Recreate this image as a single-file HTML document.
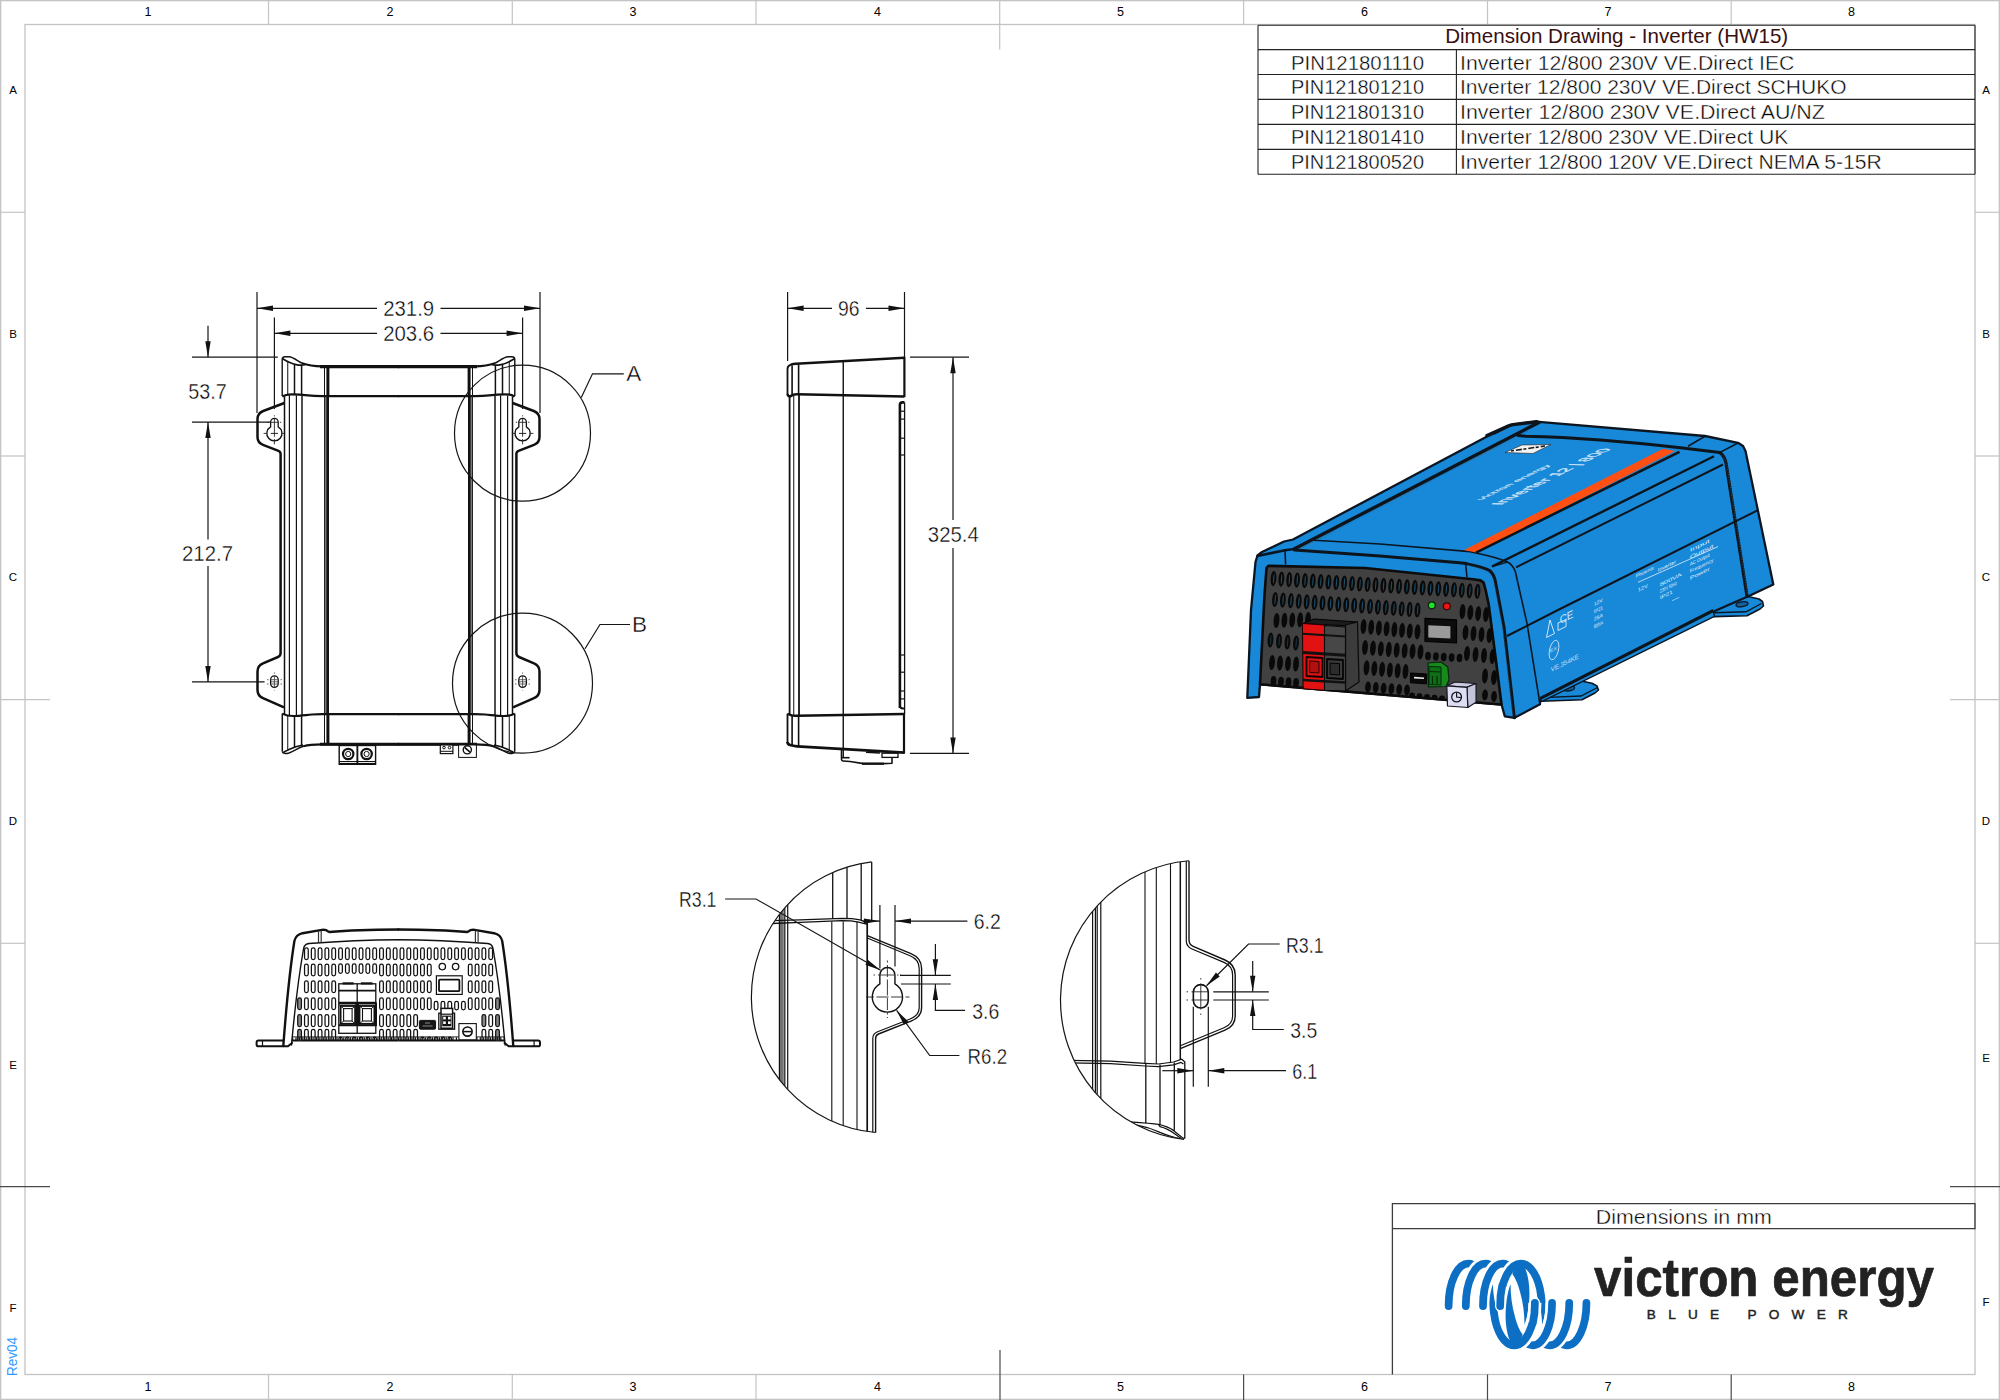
<!DOCTYPE html>
<html><head><meta charset="utf-8"><title>Dimension Drawing - Inverter (HW15)</title>
<style>
html,body{margin:0;padding:0;background:#fff;}
body{width:2000px;height:1400px;overflow:hidden;font-family:"Liberation Sans",sans-serif;}
svg{display:block;font-family:"Liberation Sans",sans-serif;}
</style></head><body>
<svg width="2000" height="1400" viewBox="0 0 2000 1400">
<rect width="2000" height="1400" fill="#fff"/>
<g id="frame">
<rect x="0.5" y="0.5" width="1999" height="1399" fill="none" stroke="#c4c4c4" stroke-width="1.6"/>
<rect x="25" y="24.5" width="1950" height="1350" fill="none" stroke="#c4c4c4" stroke-width="1.3"/>
<line x1="268.5" y1="0" x2="268.5" y2="24.5" stroke="#c4c4c4" stroke-width="1.2" />
<line x1="268.5" y1="1374.5" x2="268.5" y2="1400" stroke="#c4c4c4" stroke-width="1.2" />
<line x1="512.3" y1="0" x2="512.3" y2="24.5" stroke="#c4c4c4" stroke-width="1.2" />
<line x1="512.3" y1="1374.5" x2="512.3" y2="1400" stroke="#c4c4c4" stroke-width="1.2" />
<line x1="756" y1="0" x2="756" y2="24.5" stroke="#c4c4c4" stroke-width="1.2" />
<line x1="756" y1="1374.5" x2="756" y2="1400" stroke="#c4c4c4" stroke-width="1.2" />
<line x1="1243.6" y1="0" x2="1243.6" y2="24.5" stroke="#c4c4c4" stroke-width="1.2" />
<line x1="1243.6" y1="1374.5" x2="1243.6" y2="1400" stroke="#4a4a4a" stroke-width="1.2" />
<line x1="1487.5" y1="0" x2="1487.5" y2="24.5" stroke="#c4c4c4" stroke-width="1.2" />
<line x1="1487.5" y1="1374.5" x2="1487.5" y2="1400" stroke="#4a4a4a" stroke-width="1.2" />
<line x1="1731.2" y1="0" x2="1731.2" y2="24.5" stroke="#c4c4c4" stroke-width="1.2" />
<line x1="1731.2" y1="1374.5" x2="1731.2" y2="1400" stroke="#4a4a4a" stroke-width="1.2" />
<line x1="999.7" y1="0" x2="999.7" y2="49.5" stroke="#c4c4c4" stroke-width="1.2" />
<line x1="1000" y1="1350" x2="1000" y2="1400" stroke="#4a4a4a" stroke-width="1.2" />
<line x1="0" y1="212.3" x2="25" y2="212.3" stroke="#c4c4c4" stroke-width="1.2" />
<line x1="1975" y1="212.3" x2="2000" y2="212.3" stroke="#c4c4c4" stroke-width="1.2" />
<line x1="0" y1="456" x2="25" y2="456" stroke="#c4c4c4" stroke-width="1.2" />
<line x1="1975" y1="456" x2="2000" y2="456" stroke="#c4c4c4" stroke-width="1.2" />
<line x1="0" y1="943.3" x2="25" y2="943.3" stroke="#c4c4c4" stroke-width="1.2" />
<line x1="1975" y1="943.3" x2="2000" y2="943.3" stroke="#c4c4c4" stroke-width="1.2" />
<line x1="0" y1="699.7" x2="50" y2="699.7" stroke="#c4c4c4" stroke-width="1.2" />
<line x1="1950" y1="699.7" x2="2000" y2="699.7" stroke="#c4c4c4" stroke-width="1.2" />
<line x1="0" y1="1186.7" x2="50" y2="1186.7" stroke="#4a4a4a" stroke-width="1.2" />
<line x1="1950" y1="1186.7" x2="2000" y2="1186.7" stroke="#4a4a4a" stroke-width="1.2" />
<text x="148" y="16.4" font-size="12.5" text-anchor="middle" fill="#000" font-weight="normal" >1</text>
<text x="148" y="1391" font-size="12.5" text-anchor="middle" fill="#000" font-weight="normal" >1</text>
<text x="390" y="16.4" font-size="12.5" text-anchor="middle" fill="#000" font-weight="normal" >2</text>
<text x="390" y="1391" font-size="12.5" text-anchor="middle" fill="#000" font-weight="normal" >2</text>
<text x="633" y="16.4" font-size="12.5" text-anchor="middle" fill="#000" font-weight="normal" >3</text>
<text x="633" y="1391" font-size="12.5" text-anchor="middle" fill="#000" font-weight="normal" >3</text>
<text x="877.5" y="16.4" font-size="12.5" text-anchor="middle" fill="#000" font-weight="normal" >4</text>
<text x="877.5" y="1391" font-size="12.5" text-anchor="middle" fill="#000" font-weight="normal" >4</text>
<text x="1120.5" y="16.4" font-size="12.5" text-anchor="middle" fill="#000" font-weight="normal" >5</text>
<text x="1120.5" y="1391" font-size="12.5" text-anchor="middle" fill="#000" font-weight="normal" >5</text>
<text x="1364.5" y="16.4" font-size="12.5" text-anchor="middle" fill="#000" font-weight="normal" >6</text>
<text x="1364.5" y="1391" font-size="12.5" text-anchor="middle" fill="#000" font-weight="normal" >6</text>
<text x="1608" y="16.4" font-size="12.5" text-anchor="middle" fill="#000" font-weight="normal" >7</text>
<text x="1608" y="1391" font-size="12.5" text-anchor="middle" fill="#000" font-weight="normal" >7</text>
<text x="1851.5" y="16.4" font-size="12.5" text-anchor="middle" fill="#000" font-weight="normal" >8</text>
<text x="1851.5" y="1391" font-size="12.5" text-anchor="middle" fill="#000" font-weight="normal" >8</text>
<text x="13" y="94.3" font-size="11.5" text-anchor="middle" fill="#000" font-weight="normal" >A</text>
<text x="1986" y="94.3" font-size="11.5" text-anchor="middle" fill="#000" font-weight="normal" >A</text>
<text x="13" y="338.3" font-size="11.5" text-anchor="middle" fill="#000" font-weight="normal" >B</text>
<text x="1986" y="338.3" font-size="11.5" text-anchor="middle" fill="#000" font-weight="normal" >B</text>
<text x="13" y="581.3" font-size="11.5" text-anchor="middle" fill="#000" font-weight="normal" >C</text>
<text x="1986" y="581.3" font-size="11.5" text-anchor="middle" fill="#000" font-weight="normal" >C</text>
<text x="13" y="825.3" font-size="11.5" text-anchor="middle" fill="#000" font-weight="normal" >D</text>
<text x="1986" y="825.3" font-size="11.5" text-anchor="middle" fill="#000" font-weight="normal" >D</text>
<text x="13" y="1068.8" font-size="11.5" text-anchor="middle" fill="#000" font-weight="normal" >E</text>
<text x="1986" y="1062.3" font-size="11.5" text-anchor="middle" fill="#000" font-weight="normal" >E</text>
<text x="13" y="1312.3" font-size="11.5" text-anchor="middle" fill="#000" font-weight="normal" >F</text>
<text x="1986" y="1305.8" font-size="11.5" text-anchor="middle" fill="#000" font-weight="normal" >F</text>
<text transform="translate(16.5,1376) rotate(-90)" font-size="15" fill="#3399ff" textLength="39" lengthAdjust="spacingAndGlyphs">Rev04</text>
</g>
<g id="table">
<line x1="1258" y1="25.2" x2="1975" y2="25.2" stroke="#222" stroke-width="1.1" />
<line x1="1258" y1="49.6" x2="1975" y2="49.6" stroke="#222" stroke-width="1.1" />
<line x1="1258" y1="74.5" x2="1975" y2="74.5" stroke="#222" stroke-width="1.1" />
<line x1="1258" y1="99.4" x2="1975" y2="99.4" stroke="#222" stroke-width="1.1" />
<line x1="1258" y1="124.4" x2="1975" y2="124.4" stroke="#222" stroke-width="1.1" />
<line x1="1258" y1="149.4" x2="1975" y2="149.4" stroke="#222" stroke-width="1.1" />
<line x1="1258" y1="174.3" x2="1975" y2="174.3" stroke="#222" stroke-width="1.1" />
<line x1="1258" y1="25.2" x2="1258" y2="174.3" stroke="#222" stroke-width="1.1" />
<line x1="1975" y1="25.2" x2="1975" y2="174.3" stroke="#222" stroke-width="1.1" />
<line x1="1456.4" y1="49.6" x2="1456.4" y2="174.3" stroke="#222" stroke-width="1.1" />
<text x="1616.7" y="42.7" font-size="19.8" text-anchor="middle" fill="#3a0f0f" font-weight="normal" textLength="343" lengthAdjust="spacingAndGlyphs" >Dimension Drawing - Inverter (HW15)</text>
<text x="1291" y="69.5" font-size="20" text-anchor="start" fill="#000" font-weight="normal" textLength="133" lengthAdjust="spacingAndGlyphs" stroke="#fff" stroke-width="0.4">PIN121801110</text>
<text x="1460" y="69.5" font-size="20" text-anchor="start" fill="#000" font-weight="normal" textLength="334.4" lengthAdjust="spacingAndGlyphs" stroke="#fff" stroke-width="0.4">Inverter 12/800 230V VE.Direct IEC</text>
<text x="1291" y="94.47" font-size="20" text-anchor="start" fill="#000" font-weight="normal" textLength="133" lengthAdjust="spacingAndGlyphs" stroke="#fff" stroke-width="0.4">PIN121801210</text>
<text x="1460" y="94.47" font-size="20" text-anchor="start" fill="#000" font-weight="normal" textLength="386.5" lengthAdjust="spacingAndGlyphs" stroke="#fff" stroke-width="0.4">Inverter 12/800 230V VE.Direct SCHUKO</text>
<text x="1291" y="119.44" font-size="20" text-anchor="start" fill="#000" font-weight="normal" textLength="133" lengthAdjust="spacingAndGlyphs" stroke="#fff" stroke-width="0.4">PIN121801310</text>
<text x="1460" y="119.44" font-size="20" text-anchor="start" fill="#000" font-weight="normal" textLength="364.8" lengthAdjust="spacingAndGlyphs" stroke="#fff" stroke-width="0.4">Inverter 12/800 230V VE.Direct AU/NZ</text>
<text x="1291" y="144.41" font-size="20" text-anchor="start" fill="#000" font-weight="normal" textLength="133" lengthAdjust="spacingAndGlyphs" stroke="#fff" stroke-width="0.4">PIN121801410</text>
<text x="1460" y="144.41" font-size="20" text-anchor="start" fill="#000" font-weight="normal" textLength="328.4" lengthAdjust="spacingAndGlyphs" stroke="#fff" stroke-width="0.4">Inverter 12/800 230V VE.Direct UK</text>
<text x="1291" y="169.38" font-size="20" text-anchor="start" fill="#000" font-weight="normal" textLength="133" lengthAdjust="spacingAndGlyphs" stroke="#fff" stroke-width="0.4">PIN121800520</text>
<text x="1460" y="169.38" font-size="20" text-anchor="start" fill="#000" font-weight="normal" textLength="421.8" lengthAdjust="spacingAndGlyphs" stroke="#fff" stroke-width="0.4">Inverter 12/800 120V VE.Direct NEMA 5-15R</text>
</g>
<g id="front">
<path d="M282.2,396 L282.2,359.5 Q282.2,356.7 285,356.7 L289,356.8 C294,357.3 298,361.5 303,363.6" stroke="#111" stroke-width="1.4" fill="none" stroke-linejoin="round"/>
<path d="M302,363.2 C309,365.6 316,366.2 322,366.3 L399,366.3" stroke="#111" stroke-width="2.2" fill="none" stroke-linejoin="round"/>
<path d="M320,366.6 L399,366.6" stroke="#111" stroke-width="3.2" fill="none" />
<path d="M282.6,358.8 C287,361.5 292,363.8 296,364.6 C299,365.2 302,365.3 305,364.8" stroke="#111" stroke-width="1.6" fill="none" />
<line x1="287.75" y1="361.5" x2="287.75" y2="395" stroke="#111" stroke-width="1.0" />
<line x1="294.5" y1="364.4" x2="294.5" y2="395" stroke="#111" stroke-width="1.5" />
<line x1="301.6" y1="365.2" x2="301.6" y2="395" stroke="#111" stroke-width="1.5" />
<line x1="324.5" y1="367" x2="324.5" y2="396" stroke="#111" stroke-width="1.0" />
<line x1="327.9" y1="367" x2="327.9" y2="396" stroke="#111" stroke-width="3.0" />
<path d="M282.3,396.6 C285,394.6 289,394.3 292,394.3 C298,394.3 303,394.8 308,395.4 C313,396 318,396.1 322,396.1 L399,396.1" stroke="#111" stroke-width="2.2" fill="none" />
<line x1="284.5" y1="396.5" x2="284.5" y2="714" stroke="#111" stroke-width="1.5" />
<line x1="289.4" y1="395.5" x2="289.4" y2="715" stroke="#111" stroke-width="1.2" />
<line x1="296.4" y1="395.5" x2="296.4" y2="716" stroke="#111" stroke-width="1.2" />
<line x1="302" y1="395.8" x2="302" y2="715" stroke="#222" stroke-width="1.6" />
<line x1="324.8" y1="396" x2="324.8" y2="714" stroke="#222" stroke-width="1.6" />
<line x1="327.6" y1="396" x2="327.6" y2="714" stroke="#111" stroke-width="2.8" />
<path d="M284.4,403 L263.2,411 Q257.5,413.3 257.5,419 L257.5,437 Q257.5,442.8 263,444.8 L278.5,450.8 Q280.6,451.7 280.6,454 L280.6,653 Q280.6,656 278,657 L263,663.3 Q257.5,665.6 257.5,671.5 L257.5,690 Q257.5,695.8 263,698.2 L284,707.4" stroke="#111" stroke-width="2.5" fill="none" stroke-linejoin="round"/>
<path d="M270.62,426.84 L270.62,422.1 A3.78,3.78 0 0 1 278.18,422.1 L278.18,426.84 A7.57,7.57 0 1 1 270.62,426.84 Z" stroke="#111" stroke-width="1.3" fill="none" />
<line x1="274.4" y1="415.3" x2="274.4" y2="416.4" stroke="#222" stroke-width="0.9" />
<line x1="274.4" y1="418.8" x2="274.4" y2="436.8" stroke="#222" stroke-width="0.9" />
<line x1="274.4" y1="439" x2="274.4" y2="444.3" stroke="#222" stroke-width="0.9" />
<line x1="263.6" y1="433.4" x2="267" y2="433.4" stroke="#222" stroke-width="0.9" />
<line x1="270.8" y1="433.4" x2="278" y2="433.4" stroke="#222" stroke-width="1.0" />
<line x1="281.8" y1="433.4" x2="285.2" y2="433.4" stroke="#222" stroke-width="0.9" />
<line x1="267.6" y1="422.3" x2="268.9" y2="422.3" stroke="#222" stroke-width="0.9" />
<line x1="270.8" y1="422.3" x2="278" y2="422.3" stroke="#222" stroke-width="0.9" />
<line x1="279.9" y1="422.3" x2="281.2" y2="422.3" stroke="#222" stroke-width="0.9" />
<rect x="270.6" y="675.9" width="7.6" height="11.4" rx="3.8" fill="none" stroke="#111" stroke-width="1.3"/>
<line x1="274.4" y1="672.5" x2="274.4" y2="691" stroke="#333" stroke-width="0.8" stroke-dasharray="1.2 2.4 12 2.4"/>
<line x1="267" y1="679.7" x2="282" y2="679.7" stroke="#444" stroke-width="0.8" stroke-dasharray="1.5 2 8 2"/>
<line x1="267" y1="684" x2="282" y2="684" stroke="#444" stroke-width="0.8" stroke-dasharray="1.5 2 8 2"/>
<line x1="271" y1="681.8" x2="278" y2="681.8" stroke="#444" stroke-width="0.8" />
<path d="M282.3,713.6 C286,715.6 290,716.1 294,716 C300,715.8 306,715 312,714.5 C316,714.2 319,714.1 322,714.1 L399,714.1" stroke="#111" stroke-width="2.2" fill="none" />
<line x1="282.3" y1="713.5" x2="282.3" y2="751.5" stroke="#111" stroke-width="1.5" />
<line x1="287.75" y1="716" x2="287.75" y2="750.5" stroke="#111" stroke-width="1.0" />
<line x1="294.5" y1="716" x2="294.5" y2="748" stroke="#111" stroke-width="1.5" />
<line x1="301.6" y1="715.5" x2="301.6" y2="745.5" stroke="#111" stroke-width="1.5" />
<line x1="324.5" y1="714.5" x2="324.5" y2="744" stroke="#111" stroke-width="1.0" />
<line x1="327.9" y1="714.5" x2="327.9" y2="744" stroke="#111" stroke-width="3.0" />
<path d="M399,744.4 L322,744.4 C314,744.5 308,745 303.5,746.2" stroke="#111" stroke-width="2.2" fill="none" stroke-linejoin="round"/>
<path d="M304,746 C298,748 294,751 289,753 Q283,754.6 282.3,751.5" stroke="#111" stroke-width="1.4" fill="none" stroke-linejoin="round"/>
<path d="M320,744.2 L399,744.2" stroke="#111" stroke-width="3.0" fill="none" />
<path d="M303,745 C298,745.8 293,747.5 289,749.5 C286,751 284,752 283,752.6" stroke="#111" stroke-width="1.6" fill="none" />
<g transform="translate(797,0) scale(-1,1)"><path d="M282.2,396 L282.2,359.5 Q282.2,356.7 285,356.7 L289,356.8 C294,357.3 298,361.5 303,363.6" stroke="#111" stroke-width="1.4" fill="none" stroke-linejoin="round"/>
<path d="M302,363.2 C309,365.6 316,366.2 322,366.3 L399,366.3" stroke="#111" stroke-width="2.2" fill="none" stroke-linejoin="round"/>
<path d="M320,366.6 L399,366.6" stroke="#111" stroke-width="3.2" fill="none" />
<path d="M282.6,358.8 C287,361.5 292,363.8 296,364.6 C299,365.2 302,365.3 305,364.8" stroke="#111" stroke-width="1.6" fill="none" />
<line x1="287.75" y1="361.5" x2="287.75" y2="395" stroke="#111" stroke-width="1.0" />
<line x1="294.5" y1="364.4" x2="294.5" y2="395" stroke="#111" stroke-width="1.5" />
<line x1="301.6" y1="365.2" x2="301.6" y2="395" stroke="#111" stroke-width="1.5" />
<line x1="324.5" y1="367" x2="324.5" y2="396" stroke="#111" stroke-width="1.0" />
<line x1="327.9" y1="367" x2="327.9" y2="396" stroke="#111" stroke-width="3.0" />
<path d="M282.3,396.6 C285,394.6 289,394.3 292,394.3 C298,394.3 303,394.8 308,395.4 C313,396 318,396.1 322,396.1 L399,396.1" stroke="#111" stroke-width="2.2" fill="none" />
<line x1="284.5" y1="396.5" x2="284.5" y2="714" stroke="#111" stroke-width="1.5" />
<line x1="289.4" y1="395.5" x2="289.4" y2="715" stroke="#111" stroke-width="1.2" />
<line x1="296.4" y1="395.5" x2="296.4" y2="716" stroke="#111" stroke-width="1.2" />
<line x1="302" y1="395.8" x2="302" y2="715" stroke="#222" stroke-width="1.6" />
<line x1="324.8" y1="396" x2="324.8" y2="714" stroke="#222" stroke-width="1.6" />
<line x1="327.6" y1="396" x2="327.6" y2="714" stroke="#111" stroke-width="2.8" />
<path d="M284.4,403 L263.2,411 Q257.5,413.3 257.5,419 L257.5,437 Q257.5,442.8 263,444.8 L278.5,450.8 Q280.6,451.7 280.6,454 L280.6,653 Q280.6,656 278,657 L263,663.3 Q257.5,665.6 257.5,671.5 L257.5,690 Q257.5,695.8 263,698.2 L284,707.4" stroke="#111" stroke-width="2.5" fill="none" stroke-linejoin="round"/>
<path d="M270.62,426.84 L270.62,422.1 A3.78,3.78 0 0 1 278.18,422.1 L278.18,426.84 A7.57,7.57 0 1 1 270.62,426.84 Z" stroke="#111" stroke-width="1.3" fill="none" />
<line x1="274.4" y1="415.3" x2="274.4" y2="416.4" stroke="#222" stroke-width="0.9" />
<line x1="274.4" y1="418.8" x2="274.4" y2="436.8" stroke="#222" stroke-width="0.9" />
<line x1="274.4" y1="439" x2="274.4" y2="444.3" stroke="#222" stroke-width="0.9" />
<line x1="263.6" y1="433.4" x2="267" y2="433.4" stroke="#222" stroke-width="0.9" />
<line x1="270.8" y1="433.4" x2="278" y2="433.4" stroke="#222" stroke-width="1.0" />
<line x1="281.8" y1="433.4" x2="285.2" y2="433.4" stroke="#222" stroke-width="0.9" />
<line x1="267.6" y1="422.3" x2="268.9" y2="422.3" stroke="#222" stroke-width="0.9" />
<line x1="270.8" y1="422.3" x2="278" y2="422.3" stroke="#222" stroke-width="0.9" />
<line x1="279.9" y1="422.3" x2="281.2" y2="422.3" stroke="#222" stroke-width="0.9" />
<rect x="270.6" y="675.9" width="7.6" height="11.4" rx="3.8" fill="none" stroke="#111" stroke-width="1.3"/>
<line x1="274.4" y1="672.5" x2="274.4" y2="691" stroke="#333" stroke-width="0.8" stroke-dasharray="1.2 2.4 12 2.4"/>
<line x1="267" y1="679.7" x2="282" y2="679.7" stroke="#444" stroke-width="0.8" stroke-dasharray="1.5 2 8 2"/>
<line x1="267" y1="684" x2="282" y2="684" stroke="#444" stroke-width="0.8" stroke-dasharray="1.5 2 8 2"/>
<line x1="271" y1="681.8" x2="278" y2="681.8" stroke="#444" stroke-width="0.8" />
<path d="M282.3,713.6 C286,715.6 290,716.1 294,716 C300,715.8 306,715 312,714.5 C316,714.2 319,714.1 322,714.1 L399,714.1" stroke="#111" stroke-width="2.2" fill="none" />
<line x1="282.3" y1="713.5" x2="282.3" y2="751.5" stroke="#111" stroke-width="1.5" />
<line x1="287.75" y1="716" x2="287.75" y2="750.5" stroke="#111" stroke-width="1.0" />
<line x1="294.5" y1="716" x2="294.5" y2="748" stroke="#111" stroke-width="1.5" />
<line x1="301.6" y1="715.5" x2="301.6" y2="745.5" stroke="#111" stroke-width="1.5" />
<line x1="324.5" y1="714.5" x2="324.5" y2="744" stroke="#111" stroke-width="1.0" />
<line x1="327.9" y1="714.5" x2="327.9" y2="744" stroke="#111" stroke-width="3.0" />
<path d="M399,744.4 L322,744.4 C314,744.5 308,745 303.5,746.2" stroke="#111" stroke-width="2.2" fill="none" stroke-linejoin="round"/>
<path d="M304,746 C298,748 294,751 289,753 Q283,754.6 282.3,751.5" stroke="#111" stroke-width="1.4" fill="none" stroke-linejoin="round"/>
<path d="M320,744.2 L399,744.2" stroke="#111" stroke-width="3.0" fill="none" />
<path d="M303,745 C298,745.8 293,747.5 289,749.5 C286,751 284,752 283,752.6" stroke="#111" stroke-width="1.6" fill="none" /></g>
<rect x="339.2" y="745.5" width="18" height="18.8" fill="#fff" stroke="#111" stroke-width="1.4"/>
<line x1="339.2" y1="761.5" x2="357.2" y2="761.5" stroke="#111" stroke-width="1.0" />
<line x1="339.2" y1="763.8" x2="357.2" y2="763.8" stroke="#111" stroke-width="1.8" />
<circle cx="348.2" cy="754" r="5.2" stroke="#111" stroke-width="2.2" fill="none" />
<circle cx="348.2" cy="754" r="2.6" stroke="#111" stroke-width="1.0" fill="none" />
<rect x="357.6" y="745.5" width="18" height="18.8" fill="#fff" stroke="#111" stroke-width="1.4"/>
<line x1="357.6" y1="761.5" x2="375.6" y2="761.5" stroke="#111" stroke-width="1.0" />
<line x1="357.6" y1="763.8" x2="375.6" y2="763.8" stroke="#111" stroke-width="1.8" />
<circle cx="366.6" cy="754" r="5.2" stroke="#111" stroke-width="2.2" fill="none" />
<circle cx="366.6" cy="754" r="2.6" stroke="#111" stroke-width="1.0" fill="none" />
<rect x="440.3" y="745" width="12.6" height="8.6" fill="#fff" stroke="#111" stroke-width="1.2"/>
<line x1="440.3" y1="751.3" x2="452.9" y2="751.3" stroke="#111" stroke-width="1" />
<circle cx="444" cy="747.6" r="1.3" stroke="#111" stroke-width="1" fill="none" />
<circle cx="449.5" cy="747.6" r="1.3" stroke="#111" stroke-width="1" fill="none" />
<rect x="458.6" y="745" width="17.8" height="12.4" fill="#fff" stroke="#111" stroke-width="1"/>
<circle cx="467.3" cy="749.8" r="4.1" stroke="#111" stroke-width="1.4" fill="none" />
<line x1="464.6" y1="747.4" x2="470" y2="752.2" stroke="#111" stroke-width="1.6" />
<line x1="257" y1="292" x2="257" y2="413" stroke="#151515" stroke-width="1.2" />
<line x1="540" y1="292" x2="540" y2="413" stroke="#151515" stroke-width="1.2" />
<line x1="274.4" y1="317.5" x2="274.4" y2="409" stroke="#151515" stroke-width="1.2" />
<line x1="522.6" y1="317.5" x2="522.6" y2="409" stroke="#151515" stroke-width="1.2" />
<line x1="257" y1="308.3" x2="377" y2="308.3" stroke="#151515" stroke-width="1.2" />
<line x1="440.5" y1="308.3" x2="540" y2="308.3" stroke="#151515" stroke-width="1.2" />
<polygon points="257,308.3 273,305.6 273,311" fill="#111" stroke="none" stroke-width="1" />
<polygon points="540,308.3 524,311 524,305.6" fill="#111" stroke="none" stroke-width="1" />
<line x1="274.4" y1="333.3" x2="377" y2="333.3" stroke="#151515" stroke-width="1.2" />
<line x1="440.5" y1="333.3" x2="522.6" y2="333.3" stroke="#151515" stroke-width="1.2" />
<polygon points="274.4,333.3 290.4,330.6 290.4,336" fill="#111" stroke="none" stroke-width="1" />
<polygon points="522.6,333.3 506.6,336 506.6,330.6" fill="#111" stroke="none" stroke-width="1" />
<text x="408.7" y="316.2" font-size="22.5" text-anchor="middle" fill="#000" font-weight="normal" textLength="51" lengthAdjust="spacingAndGlyphs" stroke="#fff" stroke-width="0.4">231.9</text>
<text x="408.7" y="341.2" font-size="22.5" text-anchor="middle" fill="#000" font-weight="normal" textLength="51" lengthAdjust="spacingAndGlyphs" stroke="#fff" stroke-width="0.4">203.6</text>
<line x1="192" y1="357.2" x2="277.8" y2="357.2" stroke="#151515" stroke-width="1.2" />
<line x1="192" y1="422.1" x2="270.5" y2="422.1" stroke="#151515" stroke-width="1.2" />
<line x1="192" y1="681.9" x2="264.6" y2="681.9" stroke="#151515" stroke-width="1.2" />
<line x1="208" y1="325.8" x2="208" y2="357" stroke="#151515" stroke-width="1.2" />
<polygon points="208,357.2 205.3,341.2 210.7,341.2" fill="#111" stroke="none" stroke-width="1" />
<line x1="208" y1="422.1" x2="208" y2="539.5" stroke="#151515" stroke-width="1.2" />
<polygon points="208,422.1 210.7,438.1 205.3,438.1" fill="#111" stroke="none" stroke-width="1" />
<line x1="208" y1="566" x2="208" y2="681.9" stroke="#151515" stroke-width="1.2" />
<polygon points="208,681.9 205.3,665.9 210.7,665.9" fill="#111" stroke="none" stroke-width="1" />
<text x="207.5" y="398.7" font-size="22.5" text-anchor="middle" fill="#000" font-weight="normal" textLength="38.5" lengthAdjust="spacingAndGlyphs" stroke="#fff" stroke-width="0.4">53.7</text>
<text x="207.5" y="560.8" font-size="22.5" text-anchor="middle" fill="#000" font-weight="normal" textLength="51" lengthAdjust="spacingAndGlyphs" stroke="#fff" stroke-width="0.4">212.7</text>
<circle cx="522.5" cy="433.2" r="68" stroke="#151515" stroke-width="1.2" fill="none" />
<polyline points="581.3,397.5 592.5,373.8 623.8,373.8" fill="none" stroke="#151515" stroke-width="1.2" />
<text x="633.7" y="380.7" font-size="22.5" text-anchor="middle" fill="#000" font-weight="normal" stroke="#fff" stroke-width="0.4">A</text>
<circle cx="522.5" cy="683.2" r="70" stroke="#151515" stroke-width="1.2" fill="none" />
<polyline points="585,648.8 600,624.5 630,624.5" fill="none" stroke="#151515" stroke-width="1.2" />
<text x="639.5" y="631.7" font-size="22.5" text-anchor="middle" fill="#000" font-weight="normal" stroke="#fff" stroke-width="0.4">B</text>
</g>
<g id="side">
<path d="M787.5,395 L787.5,369 Q787.5,365.8 790.5,364.8 L792,364.4" stroke="#111" stroke-width="1.8" fill="none" stroke-linejoin="round"/>
<path d="M791,364.6 Q793,364 796,363.8 L904.5,357.7" stroke="#111" stroke-width="2.5" fill="none" stroke-linejoin="round"/>
<path d="M904.4,356.9 L904.4,397" stroke="#111" stroke-width="2.2" fill="none" />
<path d="M787.6,394 Q788,397.2 791,396 Q793,394.3 797,394.3 L904.5,396.5" stroke="#111" stroke-width="2.5" fill="none" stroke-linejoin="round"/>
<line x1="792.1" y1="365.5" x2="792.1" y2="395" stroke="#111" stroke-width="1.6" />
<line x1="798.6" y1="364.5" x2="798.6" y2="395" stroke="#111" stroke-width="1.6" />
<line x1="843.25" y1="361.5" x2="843.25" y2="758" stroke="#111" stroke-width="1.4" />
<line x1="789.6" y1="396.5" x2="789.6" y2="714.5" stroke="#111" stroke-width="1.8" />
<line x1="793.75" y1="395" x2="793.75" y2="715.5" stroke="#111" stroke-width="1.0" />
<line x1="799" y1="395" x2="799" y2="715" stroke="#111" stroke-width="1.8" />
<path d="M899.9,708 L899.9,405 Q899.9,402.4 902.5,402.4 L904.5,402.4" stroke="#111" stroke-width="2.6" fill="none" stroke-linejoin="round"/>
<line x1="904.6" y1="402.4" x2="904.6" y2="714" stroke="#111" stroke-width="1.3" />
<path d="M899.9,706 Q900,708.4 903,708.4 L904.5,708.4" stroke="#111" stroke-width="2.0" fill="none" />
<line x1="900" y1="411.2" x2="904.6" y2="411.2" stroke="#111" stroke-width="1.2" />
<line x1="900" y1="419.1" x2="904.6" y2="419.1" stroke="#111" stroke-width="1.2" />
<line x1="900" y1="438.2" x2="904.6" y2="438.2" stroke="#111" stroke-width="1.2" />
<line x1="900" y1="455" x2="904.6" y2="455" stroke="#111" stroke-width="1.2" />
<line x1="900" y1="655" x2="904.6" y2="655" stroke="#111" stroke-width="1.2" />
<line x1="900" y1="672.2" x2="904.6" y2="672.2" stroke="#111" stroke-width="1.2" />
<line x1="900" y1="691" x2="904.6" y2="691" stroke="#111" stroke-width="1.2" />
<line x1="900" y1="698.9" x2="904.6" y2="698.9" stroke="#111" stroke-width="1.2" />
<path d="M787.5,715 Q788,713.5 790,714.8 Q793,715.9 797,715.7 L904,713.9" stroke="#111" stroke-width="2.5" fill="none" stroke-linejoin="round"/>
<line x1="787.5" y1="714.6" x2="787.5" y2="743" stroke="#111" stroke-width="1.8" />
<line x1="792.1" y1="715.5" x2="792.1" y2="745.5" stroke="#111" stroke-width="1.6" />
<line x1="798.6" y1="715.5" x2="798.6" y2="746.3" stroke="#111" stroke-width="1.6" />
<path d="M787.5,742 Q787.6,744.3 790,745 Q793,746 797,746.3 L904.5,752.6" stroke="#111" stroke-width="2.8" fill="none" stroke-linejoin="round"/>
<line x1="904" y1="713.5" x2="904" y2="753.6" stroke="#111" stroke-width="2.2" />
<path d="M841.5,750 L841.5,759.5 Q841.6,760.9 843,761 L850,761.5 L863.5,763.6 L883,763.6 L892,763.3 L892,757.4" stroke="#111" stroke-width="1.6" fill="none" stroke-linejoin="round"/>
<line x1="862" y1="763.7" x2="884" y2="763.7" stroke="#111" stroke-width="2.2" />
<line x1="841.5" y1="757.7" x2="849.6" y2="757.7" stroke="#111" stroke-width="1.6" />
<rect x="882" y="753.2" width="16" height="4.2" fill="none" stroke="#111" stroke-width="1.3"/>
<line x1="866" y1="752.3" x2="880" y2="753" stroke="#111" stroke-width="1.6" />
<line x1="787.6" y1="292" x2="787.6" y2="361" stroke="#151515" stroke-width="1.2" />
<line x1="904.5" y1="292" x2="904.5" y2="357" stroke="#151515" stroke-width="1.2" />
<line x1="787.6" y1="308.3" x2="832" y2="308.3" stroke="#151515" stroke-width="1.2" />
<line x1="866" y1="308.3" x2="904.5" y2="308.3" stroke="#151515" stroke-width="1.2" />
<polygon points="787.6,308.3 803.6,305.6 803.6,311" fill="#111" stroke="none" stroke-width="1" />
<polygon points="904.5,308.3 888.5,311 888.5,305.6" fill="#111" stroke="none" stroke-width="1" />
<text x="848.8" y="316.2" font-size="22.5" text-anchor="middle" fill="#000" font-weight="normal" textLength="21.5" lengthAdjust="spacingAndGlyphs" stroke="#fff" stroke-width="0.4">96</text>
<line x1="910" y1="357.2" x2="969" y2="357.2" stroke="#151515" stroke-width="1.2" />
<line x1="910" y1="753.4" x2="969" y2="753.4" stroke="#151515" stroke-width="1.2" />
<line x1="953" y1="357.2" x2="953" y2="520" stroke="#151515" stroke-width="1.2" />
<line x1="953" y1="548" x2="953" y2="753.4" stroke="#151515" stroke-width="1.2" />
<polygon points="953,357.2 955.7,373.2 950.3,373.2" fill="#111" stroke="none" stroke-width="1" />
<polygon points="953,753.4 950.3,737.4 955.7,737.4" fill="#111" stroke="none" stroke-width="1" />
<text x="953.3" y="542.3" font-size="22.5" text-anchor="middle" fill="#000" font-weight="normal" textLength="51" lengthAdjust="spacingAndGlyphs" stroke="#fff" stroke-width="0.4">325.4</text>
</g>
<g id="bottomview">
<path d="M398.3,929.5 C370,929.6 345,930.6 329.5,932 Q327.6,931.6 326.2,930.2 Q324,929.6 322,929.9 L302.5,933.2 Q296,934.6 294.4,941 C289,975 286,1010 283.3,1046" stroke="#111" stroke-width="2.4" fill="none" stroke-linejoin="round" stroke-linecap="round"/>
<path d="M283.3,1040.6 L258.5,1040.6 Q256.6,1040.6 256.6,1042.5 L256.6,1044.4 Q256.6,1046.3 258.5,1046.3 L288,1046.3 L292,1043" stroke="#111" stroke-width="2.0" fill="none" stroke-linejoin="round" stroke-linecap="round"/>
<line x1="262.5" y1="1041" x2="262.5" y2="1046" stroke="#111" stroke-width="1.2" />
<path d="M398.3,939.7 C370,939.9 340,941.2 309,943.5 Q304.4,944 303.6,948.5 C298,980 294.5,1012 291.5,1045" stroke="#111" stroke-width="1.4" fill="none" stroke-linejoin="round" stroke-linecap="round"/>
<line x1="318.5" y1="931.2" x2="318.5" y2="942.6" stroke="#333" stroke-width="1.2" />
<line x1="321.2" y1="930.8" x2="321.2" y2="942.4" stroke="#333" stroke-width="1.2" />
<line x1="291.5" y1="1040.6" x2="398.3" y2="1040.6" stroke="#111" stroke-width="2.0" />
<g transform="translate(796.6,0) scale(-1,1)"><path d="M398.3,929.5 C370,929.6 345,930.6 329.5,932 Q327.6,931.6 326.2,930.2 Q324,929.6 322,929.9 L302.5,933.2 Q296,934.6 294.4,941 C289,975 286,1010 283.3,1046" stroke="#111" stroke-width="2.4" fill="none" stroke-linejoin="round" stroke-linecap="round"/>
<path d="M283.3,1040.6 L258.5,1040.6 Q256.6,1040.6 256.6,1042.5 L256.6,1044.4 Q256.6,1046.3 258.5,1046.3 L288,1046.3 L292,1043" stroke="#111" stroke-width="2.0" fill="none" stroke-linejoin="round" stroke-linecap="round"/>
<line x1="262.5" y1="1041" x2="262.5" y2="1046" stroke="#111" stroke-width="1.2" />
<path d="M398.3,939.7 C370,939.9 340,941.2 309,943.5 Q304.4,944 303.6,948.5 C298,980 294.5,1012 291.5,1045" stroke="#111" stroke-width="1.4" fill="none" stroke-linejoin="round" stroke-linecap="round"/>
<line x1="318.5" y1="931.2" x2="318.5" y2="942.6" stroke="#333" stroke-width="1.2" />
<line x1="321.2" y1="930.8" x2="321.2" y2="942.4" stroke="#333" stroke-width="1.2" />
<line x1="291.5" y1="1040.6" x2="398.3" y2="1040.6" stroke="#111" stroke-width="2.0" /></g>
<rect x="304.55" y="947.85" width="3.7" height="11.8" rx="1.85" fill="none" stroke="#111" stroke-width="1.25"/>
<rect x="311.38" y="947.85" width="3.7" height="11.8" rx="1.85" fill="none" stroke="#111" stroke-width="1.25"/>
<rect x="318.2" y="947.85" width="3.7" height="11.8" rx="1.85" fill="none" stroke="#111" stroke-width="1.25"/>
<rect x="325.03" y="947.85" width="3.7" height="11.8" rx="1.85" fill="none" stroke="#111" stroke-width="1.25"/>
<rect x="331.85" y="947.85" width="3.7" height="11.8" rx="1.85" fill="none" stroke="#111" stroke-width="1.25"/>
<rect x="338.68" y="947.85" width="3.7" height="11.8" rx="1.85" fill="none" stroke="#111" stroke-width="1.25"/>
<rect x="345.51" y="947.85" width="3.7" height="11.8" rx="1.85" fill="none" stroke="#111" stroke-width="1.25"/>
<rect x="352.33" y="947.85" width="3.7" height="11.8" rx="1.85" fill="none" stroke="#111" stroke-width="1.25"/>
<rect x="359.16" y="947.85" width="3.7" height="11.8" rx="1.85" fill="none" stroke="#111" stroke-width="1.25"/>
<rect x="365.98" y="947.85" width="3.7" height="11.8" rx="1.85" fill="none" stroke="#111" stroke-width="1.25"/>
<rect x="372.81" y="947.85" width="3.7" height="11.8" rx="1.85" fill="none" stroke="#111" stroke-width="1.25"/>
<rect x="379.64" y="947.85" width="3.7" height="11.8" rx="1.85" fill="none" stroke="#111" stroke-width="1.25"/>
<rect x="386.46" y="947.85" width="3.7" height="11.8" rx="1.85" fill="none" stroke="#111" stroke-width="1.25"/>
<rect x="393.29" y="947.85" width="3.7" height="11.8" rx="1.85" fill="none" stroke="#111" stroke-width="1.25"/>
<rect x="400.11" y="947.85" width="3.7" height="11.8" rx="1.85" fill="none" stroke="#111" stroke-width="1.25"/>
<rect x="406.94" y="947.85" width="3.7" height="11.8" rx="1.85" fill="none" stroke="#111" stroke-width="1.25"/>
<rect x="413.77" y="947.85" width="3.7" height="11.8" rx="1.85" fill="none" stroke="#111" stroke-width="1.25"/>
<rect x="420.59" y="947.85" width="3.7" height="11.8" rx="1.85" fill="none" stroke="#111" stroke-width="1.25"/>
<rect x="427.42" y="947.85" width="3.7" height="11.8" rx="1.85" fill="none" stroke="#111" stroke-width="1.25"/>
<rect x="434.24" y="947.85" width="3.7" height="11.8" rx="1.85" fill="none" stroke="#111" stroke-width="1.25"/>
<rect x="441.07" y="947.85" width="3.7" height="11.8" rx="1.85" fill="none" stroke="#111" stroke-width="1.25"/>
<rect x="447.9" y="947.85" width="3.7" height="11.8" rx="1.85" fill="none" stroke="#111" stroke-width="1.25"/>
<rect x="454.72" y="947.85" width="3.7" height="11.8" rx="1.85" fill="none" stroke="#111" stroke-width="1.25"/>
<rect x="461.55" y="947.85" width="3.7" height="11.8" rx="1.85" fill="none" stroke="#111" stroke-width="1.25"/>
<rect x="468.37" y="947.85" width="3.7" height="11.8" rx="1.85" fill="none" stroke="#111" stroke-width="1.25"/>
<rect x="475.2" y="947.85" width="3.7" height="11.8" rx="1.85" fill="none" stroke="#111" stroke-width="1.25"/>
<rect x="482.03" y="947.85" width="3.7" height="11.8" rx="1.85" fill="none" stroke="#111" stroke-width="1.25"/>
<rect x="488.85" y="947.85" width="3.7" height="11.8" rx="1.85" fill="none" stroke="#111" stroke-width="1.25"/>
<rect x="304.55" y="964.05" width="3.7" height="11.8" rx="1.85" fill="none" stroke="#111" stroke-width="1.25"/>
<rect x="311.38" y="964.05" width="3.7" height="11.8" rx="1.85" fill="none" stroke="#111" stroke-width="1.25"/>
<rect x="318.2" y="964.05" width="3.7" height="11.8" rx="1.85" fill="none" stroke="#111" stroke-width="1.25"/>
<rect x="325.03" y="964.05" width="3.7" height="11.8" rx="1.85" fill="none" stroke="#111" stroke-width="1.25"/>
<rect x="331.85" y="964.05" width="3.7" height="11.8" rx="1.85" fill="none" stroke="#111" stroke-width="1.25"/>
<rect x="379.64" y="964.05" width="3.7" height="11.8" rx="1.85" fill="none" stroke="#111" stroke-width="1.25"/>
<rect x="386.46" y="964.05" width="3.7" height="11.8" rx="1.85" fill="none" stroke="#111" stroke-width="1.25"/>
<rect x="393.29" y="964.05" width="3.7" height="11.8" rx="1.85" fill="none" stroke="#111" stroke-width="1.25"/>
<rect x="400.11" y="964.05" width="3.7" height="11.8" rx="1.85" fill="none" stroke="#111" stroke-width="1.25"/>
<rect x="406.94" y="964.05" width="3.7" height="11.8" rx="1.85" fill="none" stroke="#111" stroke-width="1.25"/>
<rect x="413.77" y="964.05" width="3.7" height="11.8" rx="1.85" fill="none" stroke="#111" stroke-width="1.25"/>
<rect x="420.59" y="964.05" width="3.7" height="11.8" rx="1.85" fill="none" stroke="#111" stroke-width="1.25"/>
<rect x="427.42" y="964.05" width="3.7" height="11.8" rx="1.85" fill="none" stroke="#111" stroke-width="1.25"/>
<rect x="468.37" y="964.05" width="3.7" height="11.8" rx="1.85" fill="none" stroke="#111" stroke-width="1.25"/>
<rect x="475.2" y="964.05" width="3.7" height="11.8" rx="1.85" fill="none" stroke="#111" stroke-width="1.25"/>
<rect x="482.03" y="964.05" width="3.7" height="11.8" rx="1.85" fill="none" stroke="#111" stroke-width="1.25"/>
<rect x="488.85" y="964.05" width="3.7" height="11.8" rx="1.85" fill="none" stroke="#111" stroke-width="1.25"/>
<rect x="338.68" y="963.9" width="3.7" height="9.4" rx="1.85" fill="none" stroke="#111" stroke-width="1.25"/>
<rect x="345.51" y="963.9" width="3.7" height="9.4" rx="1.85" fill="none" stroke="#111" stroke-width="1.25"/>
<rect x="352.33" y="963.9" width="3.7" height="9.4" rx="1.85" fill="none" stroke="#111" stroke-width="1.25"/>
<rect x="359.16" y="963.9" width="3.7" height="9.4" rx="1.85" fill="none" stroke="#111" stroke-width="1.25"/>
<rect x="365.98" y="963.9" width="3.7" height="9.4" rx="1.85" fill="none" stroke="#111" stroke-width="1.25"/>
<rect x="372.81" y="963.9" width="3.7" height="9.4" rx="1.85" fill="none" stroke="#111" stroke-width="1.25"/>
<rect x="304.55" y="980.9" width="3.7" height="11.8" rx="1.85" fill="none" stroke="#111" stroke-width="1.25"/>
<rect x="311.38" y="980.9" width="3.7" height="11.8" rx="1.85" fill="none" stroke="#111" stroke-width="1.25"/>
<rect x="318.2" y="980.9" width="3.7" height="11.8" rx="1.85" fill="none" stroke="#111" stroke-width="1.25"/>
<rect x="325.03" y="980.9" width="3.7" height="11.8" rx="1.85" fill="none" stroke="#111" stroke-width="1.25"/>
<rect x="331.85" y="980.9" width="3.7" height="11.8" rx="1.85" fill="none" stroke="#111" stroke-width="1.25"/>
<rect x="379.64" y="980.9" width="3.7" height="11.8" rx="1.85" fill="none" stroke="#111" stroke-width="1.25"/>
<rect x="386.46" y="980.9" width="3.7" height="11.8" rx="1.85" fill="none" stroke="#111" stroke-width="1.25"/>
<rect x="393.29" y="980.9" width="3.7" height="11.8" rx="1.85" fill="none" stroke="#111" stroke-width="1.25"/>
<rect x="400.11" y="980.9" width="3.7" height="11.8" rx="1.85" fill="none" stroke="#111" stroke-width="1.25"/>
<rect x="406.94" y="980.9" width="3.7" height="11.8" rx="1.85" fill="none" stroke="#111" stroke-width="1.25"/>
<rect x="413.77" y="980.9" width="3.7" height="11.8" rx="1.85" fill="none" stroke="#111" stroke-width="1.25"/>
<rect x="420.59" y="980.9" width="3.7" height="11.8" rx="1.85" fill="none" stroke="#111" stroke-width="1.25"/>
<rect x="427.42" y="980.9" width="3.7" height="11.8" rx="1.85" fill="none" stroke="#111" stroke-width="1.25"/>
<rect x="468.37" y="980.9" width="3.7" height="11.8" rx="1.85" fill="none" stroke="#111" stroke-width="1.25"/>
<rect x="475.2" y="980.9" width="3.7" height="11.8" rx="1.85" fill="none" stroke="#111" stroke-width="1.25"/>
<rect x="482.03" y="980.9" width="3.7" height="11.8" rx="1.85" fill="none" stroke="#111" stroke-width="1.25"/>
<rect x="488.85" y="980.9" width="3.7" height="11.8" rx="1.85" fill="none" stroke="#111" stroke-width="1.25"/>
<rect x="297.72" y="997.8" width="3.7" height="11.8" rx="1.85" fill="#888" stroke="#111" stroke-width="1.25"/>
<rect x="304.55" y="997.8" width="3.7" height="11.8" rx="1.85" fill="none" stroke="#111" stroke-width="1.25"/>
<rect x="311.38" y="997.8" width="3.7" height="11.8" rx="1.85" fill="none" stroke="#111" stroke-width="1.25"/>
<rect x="318.2" y="997.8" width="3.7" height="11.8" rx="1.85" fill="none" stroke="#111" stroke-width="1.25"/>
<rect x="325.03" y="997.8" width="3.7" height="11.8" rx="1.85" fill="none" stroke="#111" stroke-width="1.25"/>
<rect x="331.85" y="997.8" width="3.7" height="11.8" rx="1.85" fill="none" stroke="#111" stroke-width="1.25"/>
<rect x="379.64" y="997.8" width="3.7" height="11.8" rx="1.85" fill="none" stroke="#111" stroke-width="1.25"/>
<rect x="386.46" y="997.8" width="3.7" height="11.8" rx="1.85" fill="none" stroke="#111" stroke-width="1.25"/>
<rect x="393.29" y="997.8" width="3.7" height="11.8" rx="1.85" fill="none" stroke="#111" stroke-width="1.25"/>
<rect x="400.11" y="997.8" width="3.7" height="11.8" rx="1.85" fill="none" stroke="#111" stroke-width="1.25"/>
<rect x="406.94" y="997.8" width="3.7" height="11.8" rx="1.85" fill="none" stroke="#111" stroke-width="1.25"/>
<rect x="413.77" y="997.8" width="3.7" height="11.8" rx="1.85" fill="none" stroke="#111" stroke-width="1.25"/>
<rect x="420.59" y="997.8" width="3.7" height="11.8" rx="1.85" fill="none" stroke="#111" stroke-width="1.25"/>
<rect x="427.42" y="997.8" width="3.7" height="11.8" rx="1.85" fill="none" stroke="#111" stroke-width="1.25"/>
<rect x="468.37" y="997.8" width="3.7" height="11.8" rx="1.85" fill="none" stroke="#111" stroke-width="1.25"/>
<rect x="475.2" y="997.8" width="3.7" height="11.8" rx="1.85" fill="none" stroke="#111" stroke-width="1.25"/>
<rect x="482.03" y="997.8" width="3.7" height="11.8" rx="1.85" fill="none" stroke="#111" stroke-width="1.25"/>
<rect x="488.85" y="997.8" width="3.7" height="11.8" rx="1.85" fill="none" stroke="#111" stroke-width="1.25"/>
<rect x="434.24" y="1001.3" width="3.7" height="8.6" rx="1.85" fill="none" stroke="#111" stroke-width="1.25"/>
<rect x="441.07" y="1001.3" width="3.7" height="8.6" rx="1.85" fill="none" stroke="#111" stroke-width="1.25"/>
<rect x="447.9" y="1001.3" width="3.7" height="8.6" rx="1.85" fill="none" stroke="#111" stroke-width="1.25"/>
<rect x="454.72" y="1001.3" width="3.7" height="8.6" rx="1.85" fill="none" stroke="#111" stroke-width="1.25"/>
<rect x="461.55" y="1001.3" width="3.7" height="8.6" rx="1.85" fill="none" stroke="#111" stroke-width="1.25"/>
<rect x="495.68" y="997.8" width="3.7" height="11.8" rx="1.85" fill="#888" stroke="#111" stroke-width="1.25"/>
<rect x="297.72" y="1014.7" width="3.7" height="11.8" rx="1.85" fill="#888" stroke="#111" stroke-width="1.25"/>
<rect x="304.55" y="1014.7" width="3.7" height="11.8" rx="1.85" fill="none" stroke="#111" stroke-width="1.25"/>
<rect x="311.38" y="1014.7" width="3.7" height="11.8" rx="1.85" fill="none" stroke="#111" stroke-width="1.25"/>
<rect x="318.2" y="1014.7" width="3.7" height="11.8" rx="1.85" fill="none" stroke="#111" stroke-width="1.25"/>
<rect x="325.03" y="1014.7" width="3.7" height="11.8" rx="1.85" fill="none" stroke="#111" stroke-width="1.25"/>
<rect x="331.85" y="1014.7" width="3.7" height="11.8" rx="1.85" fill="none" stroke="#111" stroke-width="1.25"/>
<rect x="379.64" y="1014.7" width="3.7" height="11.8" rx="1.85" fill="none" stroke="#111" stroke-width="1.25"/>
<rect x="386.46" y="1014.7" width="3.7" height="11.8" rx="1.85" fill="none" stroke="#111" stroke-width="1.25"/>
<rect x="393.29" y="1014.7" width="3.7" height="11.8" rx="1.85" fill="none" stroke="#111" stroke-width="1.25"/>
<rect x="400.11" y="1014.7" width="3.7" height="11.8" rx="1.85" fill="none" stroke="#111" stroke-width="1.25"/>
<rect x="406.94" y="1014.7" width="3.7" height="11.8" rx="1.85" fill="none" stroke="#111" stroke-width="1.25"/>
<rect x="413.77" y="1014.7" width="3.7" height="11.8" rx="1.85" fill="none" stroke="#111" stroke-width="1.25"/>
<rect x="482.03" y="1014.7" width="3.7" height="11.8" rx="1.85" fill="#888" stroke="#111" stroke-width="1.25"/>
<rect x="488.85" y="1014.7" width="3.7" height="11.8" rx="1.85" fill="none" stroke="#111" stroke-width="1.25"/>
<rect x="495.68" y="1014.7" width="3.7" height="11.8" rx="1.85" fill="#888" stroke="#111" stroke-width="1.25"/>
<clipPath id="bvclip"><rect x="290" y="1025" width="220" height="15.2"/></clipPath>
<g clip-path="url(#bvclip)"><rect x="297.72" y="1029.4" width="3.7" height="11.8" rx="1.85" fill="#888" stroke="#111" stroke-width="1.25"/><rect x="304.55" y="1029.4" width="3.7" height="11.8" rx="1.85" fill="none" stroke="#111" stroke-width="1.25"/><rect x="311.38" y="1029.4" width="3.7" height="11.8" rx="1.85" fill="none" stroke="#111" stroke-width="1.25"/><rect x="318.2" y="1029.4" width="3.7" height="11.8" rx="1.85" fill="none" stroke="#111" stroke-width="1.25"/><rect x="325.03" y="1029.4" width="3.7" height="11.8" rx="1.85" fill="none" stroke="#111" stroke-width="1.25"/><rect x="331.85" y="1029.4" width="3.7" height="11.8" rx="1.85" fill="none" stroke="#111" stroke-width="1.25"/><rect x="379.64" y="1029.4" width="3.7" height="11.8" rx="1.85" fill="none" stroke="#111" stroke-width="1.25"/><rect x="386.46" y="1029.4" width="3.7" height="11.8" rx="1.85" fill="none" stroke="#111" stroke-width="1.25"/><rect x="393.29" y="1029.4" width="3.7" height="11.8" rx="1.85" fill="none" stroke="#111" stroke-width="1.25"/><rect x="400.11" y="1029.4" width="3.7" height="11.8" rx="1.85" fill="none" stroke="#111" stroke-width="1.25"/><rect x="406.94" y="1029.4" width="3.7" height="11.8" rx="1.85" fill="none" stroke="#111" stroke-width="1.25"/><rect x="413.77" y="1029.4" width="3.7" height="11.8" rx="1.85" fill="none" stroke="#111" stroke-width="1.25"/><rect x="482.03" y="1029.4" width="3.7" height="11.8" rx="1.85" fill="none" stroke="#111" stroke-width="1.25"/><rect x="488.85" y="1029.4" width="3.7" height="11.8" rx="1.85" fill="none" stroke="#111" stroke-width="1.25"/><rect x="495.68" y="1029.4" width="3.7" height="11.8" rx="1.85" fill="#888" stroke="#111" stroke-width="1.25"/><rect x="338.83" y="1037" width="3.4" height="7" rx="1.7" fill="none" stroke="#111" stroke-width="1.25"/><rect x="345.66" y="1037" width="3.4" height="7" rx="1.7" fill="none" stroke="#111" stroke-width="1.25"/><rect x="352.48" y="1037" width="3.4" height="7" rx="1.7" fill="none" stroke="#111" stroke-width="1.25"/><rect x="359.31" y="1037" width="3.4" height="7" rx="1.7" fill="none" stroke="#111" stroke-width="1.25"/><rect x="366.13" y="1037" width="3.4" height="7" rx="1.7" fill="none" stroke="#111" stroke-width="1.25"/><rect x="372.96" y="1037" width="3.4" height="7" rx="1.7" fill="none" stroke="#111" stroke-width="1.25"/><rect x="420.74" y="1037" width="3.4" height="7" rx="1.7" fill="none" stroke="#111" stroke-width="1.25"/><rect x="427.57" y="1037" width="3.4" height="7" rx="1.7" fill="none" stroke="#111" stroke-width="1.25"/><rect x="434.39" y="1037" width="3.4" height="7" rx="1.7" fill="none" stroke="#111" stroke-width="1.25"/><rect x="441.22" y="1037" width="3.4" height="7" rx="1.7" fill="none" stroke="#111" stroke-width="1.25"/><rect x="448.05" y="1037" width="3.4" height="7" rx="1.7" fill="none" stroke="#111" stroke-width="1.25"/></g>
<line x1="292.5" y1="1036.9" x2="504.5" y2="1036.9" stroke="#111" stroke-width="0.9" />
<line x1="292" y1="1038.8" x2="505" y2="1038.8" stroke="#111" stroke-width="3.0" stroke-dasharray="1.2 2.213"/>
<circle cx="442.3" cy="966.6" r="3.2" stroke="#111" stroke-width="1.3" fill="none" />
<circle cx="455.6" cy="966.6" r="3.2" stroke="#111" stroke-width="1.3" fill="none" />
<rect x="436.4" y="975.8" width="25.8" height="18.6" fill="#fff" stroke="#111" stroke-width="1.2"/>
<rect x="439" y="979.6" width="20.4" height="11.6" rx="1" fill="#fff" stroke="#111" stroke-width="1.8"/>
<rect x="338.8" y="983.8" width="37" height="49.5" fill="#fff" stroke="#111" stroke-width="1.3"/>
<line x1="357.2" y1="983.8" x2="357.2" y2="1033.3" stroke="#111" stroke-width="1.3" />
<line x1="342.6" y1="983.4" x2="353.7" y2="983.4" stroke="#111" stroke-width="2.2" />
<line x1="360.9" y1="983.4" x2="372.5" y2="983.4" stroke="#111" stroke-width="2.2" />
<line x1="338.8" y1="990.6" x2="375.8" y2="990.6" stroke="#111" stroke-width="1.6" />
<line x1="338.8" y1="1002.8" x2="376.5" y2="1002.8" stroke="#111" stroke-width="2.2" />
<line x1="338.8" y1="1005" x2="376.5" y2="1005" stroke="#111" stroke-width="1.2" />
<line x1="338.8" y1="1025.2" x2="376.5" y2="1025.2" stroke="#111" stroke-width="2.0" />
<line x1="357.2" y1="1003" x2="357.2" y2="1026" stroke="#111" stroke-width="3.6" />
<line x1="376" y1="1003" x2="376" y2="1026" stroke="#111" stroke-width="2.0" />
<rect x="340.6" y="1006" width="14.5" height="17.8" fill="#fff" stroke="#111" stroke-width="1.8"/>
<rect x="343.6" y="1008.6" width="8.5" height="12.4" fill="#fff" stroke="#111" stroke-width="1.1"/>
<line x1="340.6" y1="1006" x2="343.6" y2="1008.6" stroke="#111" stroke-width="1.0" />
<line x1="355.1" y1="1006" x2="352.1" y2="1008.6" stroke="#111" stroke-width="1.0" />
<line x1="340.6" y1="1023.8" x2="343.6" y2="1021" stroke="#111" stroke-width="1.0" />
<line x1="355.1" y1="1023.8" x2="352.1" y2="1021" stroke="#111" stroke-width="1.0" />
<rect x="359.5" y="1006" width="14.9" height="17.8" fill="#fff" stroke="#111" stroke-width="1.8"/>
<rect x="362.5" y="1008.6" width="8.9" height="12.4" fill="#fff" stroke="#111" stroke-width="1.1"/>
<line x1="359.5" y1="1006" x2="362.5" y2="1008.6" stroke="#111" stroke-width="1.0" />
<line x1="374.4" y1="1006" x2="371.4" y2="1008.6" stroke="#111" stroke-width="1.0" />
<line x1="359.5" y1="1023.8" x2="362.5" y2="1021" stroke="#111" stroke-width="1.0" />
<line x1="374.4" y1="1023.8" x2="371.4" y2="1021" stroke="#111" stroke-width="1.0" />
<rect x="419.4" y="1020.4" width="16.2" height="8.8" rx="1" fill="#151515" stroke="#111" stroke-width="1"/>
<line x1="422.5" y1="1026" x2="432.5" y2="1026" stroke="#888" stroke-width="1.0" />
<line x1="425" y1="1023" x2="430" y2="1023" stroke="#aaa" stroke-width="0.8" />
<rect x="438.8" y="1013.2" width="15.8" height="16" fill="#fff" stroke="#111" stroke-width="1.3"/>
<rect x="441" y="1008.4" width="11.6" height="20" fill="#fff" stroke="#111" stroke-width="1.5"/>
<line x1="441" y1="1014.2" x2="452.6" y2="1014.2" stroke="#111" stroke-width="1.2" />
<rect x="442.2" y="1015.6" width="9.2" height="10.6" fill="#151515"/>
<rect x="443.2" y="1016.8" width="2.6" height="2.6" fill="#fff"/>
<rect x="448" y="1016.8" width="2.6" height="2.6" fill="#fff"/>
<rect x="443.2" y="1021.4" width="2.6" height="2.6" fill="#fff"/>
<rect x="448" y="1021.4" width="2.6" height="2.6" fill="#fff"/>
<line x1="442" y1="1027.3" x2="451.6" y2="1027.3" stroke="#777" stroke-width="1.0" />
<rect x="458.9" y="1023.6" width="17.4" height="16.2" fill="#fff" stroke="#111" stroke-width="1.1"/>
<circle cx="467.5" cy="1031.6" r="4.6" stroke="#111" stroke-width="1.7" fill="none" />
<line x1="463.4" y1="1031.6" x2="471.6" y2="1031.6" stroke="#111" stroke-width="1.5" />
</g>
<g id="detaila">
<clipPath id="clipA"><circle cx="887.4" cy="997.0" r="136.0"/></clipPath>
<g clip-path="url(#clipA)"><line x1="779.4" y1="914.34" x2="779.4" y2="1079.66" stroke="#111" stroke-width="1.2" />
<line x1="781" y1="912.29" x2="781" y2="1081.71" stroke="#111" stroke-width="1.2" />
<line x1="782.9" y1="909.96" x2="782.9" y2="1084.04" stroke="#777" stroke-width="1.8" />
<line x1="784.8" y1="907.73" x2="784.8" y2="1086.27" stroke="#111" stroke-width="1.2" />
<line x1="787.7" y1="904.5" x2="787.7" y2="1089.5" stroke="#111" stroke-width="1.2" />
<line x1="832.7" y1="872.49" x2="832.7" y2="918.8" stroke="#111" stroke-width="1.3" />
<line x1="847" y1="867.14" x2="847" y2="918.6" stroke="#111" stroke-width="1.3" />
<line x1="861.2" y1="863.55" x2="861.2" y2="920" stroke="#111" stroke-width="1.3" />
<line x1="871.7" y1="861.91" x2="871.7" y2="921.5" stroke="#111" stroke-width="1.3" />
<line x1="831.8" y1="921.5" x2="831.8" y2="1121.12" stroke="#111" stroke-width="1.1" />
<line x1="843.2" y1="921.5" x2="843.2" y2="1125.62" stroke="#111" stroke-width="1.1" />
<line x1="857" y1="921.5" x2="857" y2="1129.56" stroke="#111" stroke-width="1.1" />
<line x1="867.2" y1="921.5" x2="867.2" y2="1131.49" stroke="#111" stroke-width="1.7" />
<polyline points="772,920.6 800,919.8 842,918.3 852,918.6 860,919.8 867.5,922.8" fill="none" stroke="#111" stroke-width="1.3" />
<polyline points="772,923.5 800,922.4 842,920.6 851,920.9 858.5,922.1 867.5,924.4" fill="none" stroke="#111" stroke-width="1.3" />
<path d="M867.3,935.6 L911,953.6 Q921.6,958 921.6,968.5 L921.6,1007.5 Q921.6,1017 911,1021.2 L878.5,1034 Q875.6,1035.2 875.6,1038.5 L875.6,1140" stroke="#111" stroke-width="1.4" fill="none" />
<path d="M867.3,938 L910,955.8 Q919.2,959.6 919.2,968.5 L919.2,1007.5 Q919.2,1015.4 910,1019 L877.6,1031.8 Q872.8,1033.7 872.8,1038.5 L872.8,1140" stroke="#111" stroke-width="1.2" fill="none" /></g>
<path d="M871.7,861.91 A136.0,136.0 0 0 0 875.6,1132.49" stroke="#151515" stroke-width="1.2" fill="none" />
<path d="M879.85,983.9 L879.85,975 A7.55,7.55 0 0 1 894.95,975 L894.95,983.9 A15.1,15.1 0 1 1 879.85,983.9 Z" stroke="#111" stroke-width="1.4" fill="none" />
<line x1="887.4" y1="960.5" x2="887.4" y2="1018" stroke="#222" stroke-width="0.9" stroke-dasharray="2 2.5 12 2.5 16 2.5 12 2.5"/>
<line x1="866" y1="997" x2="909.5" y2="997" stroke="#222" stroke-width="0.9" stroke-dasharray="8 2.5 12 2.5 12 2.5"/>
<line x1="873.5" y1="975" x2="901" y2="975" stroke="#333" stroke-width="0.9" stroke-dasharray="1.5 3 16 3 1.5"/>
<line x1="879.9" y1="905" x2="879.9" y2="968.5" stroke="#151515" stroke-width="1.2" />
<line x1="895" y1="905" x2="895" y2="966.5" stroke="#151515" stroke-width="1.2" />
<line x1="863" y1="921.1" x2="879.9" y2="921.1" stroke="#151515" stroke-width="1.2" />
<polygon points="879.9,921.1 863.9,923.8 863.9,918.4" fill="#111" stroke="none" stroke-width="1" />
<line x1="895" y1="921.1" x2="967.4" y2="921.1" stroke="#151515" stroke-width="1.2" />
<polygon points="895,921.1 911,918.4 911,923.8" fill="#111" stroke="none" stroke-width="1" />
<text x="987.3" y="928.9" font-size="22.5" text-anchor="middle" fill="#000" font-weight="normal" textLength="27" lengthAdjust="spacingAndGlyphs" stroke="#fff" stroke-width="0.4">6.2</text>
<line x1="900" y1="975.3" x2="950.8" y2="975.3" stroke="#151515" stroke-width="1.2" />
<line x1="901" y1="984" x2="950.8" y2="984" stroke="#151515" stroke-width="1.2" />
<line x1="935.4" y1="944" x2="935.4" y2="975.3" stroke="#151515" stroke-width="1.2" />
<polygon points="935.4,975.3 932.7,959.3 938.1,959.3" fill="#111" stroke="none" stroke-width="1" />
<polyline points="935.4,984 935.4,1010.4 965.1,1010.4" fill="none" stroke="#151515" stroke-width="1.2" />
<polygon points="935.4,984 938.1,1000 932.7,1000" fill="#111" stroke="none" stroke-width="1" />
<text x="985.8" y="1019.3" font-size="22.5" text-anchor="middle" fill="#000" font-weight="normal" textLength="27" lengthAdjust="spacingAndGlyphs" stroke="#fff" stroke-width="0.4">3.6</text>
<polyline points="725.1,899 756,899 880.6,970.3" fill="none" stroke="#151515" stroke-width="1.2" />
<polygon points="880.6,970.3 865.37,964.7 868.05,960.01" fill="#111" stroke="none" stroke-width="1" />
<text x="697.7" y="907.4" font-size="22.5" text-anchor="middle" fill="#000" font-weight="normal" textLength="37.5" lengthAdjust="spacingAndGlyphs" stroke="#fff" stroke-width="0.4">R3.1</text>
<polyline points="896.6,1010.3 929.7,1055.5 959.4,1055.5" fill="none" stroke="#151515" stroke-width="1.2" />
<polygon points="896.6,1010.3 908.23,1021.61 903.87,1024.8" fill="#111" stroke="none" stroke-width="1" />
<text x="987.3" y="1064.3" font-size="22.5" text-anchor="middle" fill="#000" font-weight="normal" textLength="39.5" lengthAdjust="spacingAndGlyphs" stroke="#fff" stroke-width="0.4">R6.2</text>
</g>
<g id="detailb">
<clipPath id="clipB"><circle cx="1200.5" cy="1000.3" r="140.0"/></clipPath>
<g clip-path="url(#clipB)"><line x1="1092.6" y1="911.09" x2="1092.6" y2="1089.51" stroke="#111" stroke-width="1.2" />
<line x1="1095.4" y1="907.81" x2="1095.4" y2="1092.79" stroke="#111" stroke-width="1.2" />
<line x1="1097.2" y1="905.81" x2="1097.2" y2="1094.79" stroke="#111" stroke-width="1.2" />
<line x1="1100.8" y1="902.02" x2="1100.8" y2="1098.58" stroke="#111" stroke-width="1.2" />
<line x1="1145" y1="871.77" x2="1145" y2="1063.5" stroke="#111" stroke-width="1.1" />
<line x1="1156.3" y1="867.46" x2="1156.3" y2="1064" stroke="#111" stroke-width="1.1" />
<line x1="1170.5" y1="863.55" x2="1170.5" y2="1062.5" stroke="#111" stroke-width="1.1" />
<line x1="1180.3" y1="861.76" x2="1180.3" y2="1060" stroke="#111" stroke-width="1.5" />
<line x1="1145.8" y1="1063.5" x2="1145.8" y2="1123.2" stroke="#111" stroke-width="1.3" />
<line x1="1160" y1="1064.5" x2="1160" y2="1124.8" stroke="#111" stroke-width="1.3" />
<line x1="1174.3" y1="1062.5" x2="1174.3" y2="1130.8" stroke="#111" stroke-width="1.3" />
<line x1="1184.8" y1="1061.5" x2="1184.8" y2="1138.6" stroke="#111" stroke-width="1.3" />
<path d="M1189,855 L1189,940 Q1189,944.6 1193.2,946.4 L1225,960 Q1235.2,964.4 1235.2,975 L1235.2,1016 Q1235.2,1026 1225,1030.2 L1180.3,1048.6" stroke="#111" stroke-width="1.4" fill="none" />
<path d="M1186.3,855 L1186.3,941 Q1186.3,946.6 1192,949 L1224,962.4 Q1232.6,966 1232.6,975 L1232.6,1016 Q1232.6,1024.2 1224,1027.8 L1180.3,1045.8" stroke="#111" stroke-width="1.2" fill="none" />
<polyline points="1070,1060.4 1110.5,1061.2 1145,1063.4 1158.5,1064 1173.5,1062 1181.8,1059.3 1184.8,1062" fill="none" stroke="#111" stroke-width="1.2" />
<polyline points="1070,1062.8 1110.5,1063.6 1145,1066 1158.5,1066.7 1173.5,1064.8 1181,1062.4 1183.5,1064" fill="none" stroke="#111" stroke-width="1.2" />
<path d="M1130,1121.8 C1142,1122.6 1152,1123.3 1158.5,1124.4 C1165,1125.8 1170,1128 1173.5,1130.4 L1183.3,1138.4 L1184.8,1138" stroke="#111" stroke-width="1.3" fill="none" />
<path d="M1137,1125.2 C1147,1127 1154,1129.6 1160,1132.4 C1168,1135.8 1176,1138.2 1182.5,1139.3" stroke="#111" stroke-width="1.3" fill="none" />
<path d="M1158.5,1124.4 L1160,1126.6 C1166,1128 1171,1131 1175,1134 L1181.5,1138.8" stroke="#111" stroke-width="1.2" fill="none" /></g>
<path d="M1189,860.77 A140.0,140.0 0 0 0 1184,1139.32" stroke="#151515" stroke-width="1.2" fill="none" />
<rect x="1193.35" y="984.6" width="14.9" height="23.4" rx="7.45" fill="none" stroke="#111" stroke-width="1.6"/>
<line x1="1200.8" y1="978" x2="1200.8" y2="1015" stroke="#222" stroke-width="0.9" stroke-dasharray="1.5 4 26 4 1.5"/>
<line x1="1186.5" y1="991.8" x2="1208.5" y2="991.8" stroke="#222" stroke-width="0.9" stroke-dasharray="1.5 3.5 20"/>
<line x1="1186.5" y1="1000" x2="1208.5" y2="1000" stroke="#222" stroke-width="0.9" stroke-dasharray="1.5 3.5 20"/>
<line x1="1213.3" y1="991.8" x2="1268.8" y2="991.8" stroke="#151515" stroke-width="1.2" />
<line x1="1213.3" y1="1000" x2="1268.8" y2="1000" stroke="#151515" stroke-width="1.2" />
<line x1="1252.7" y1="961" x2="1252.7" y2="991.8" stroke="#151515" stroke-width="1.2" />
<polygon points="1252.7,991.8 1250,975.8 1255.4,975.8" fill="#111" stroke="none" stroke-width="1" />
<polyline points="1252.7,1000 1252.7,1029.5 1283.8,1029.5" fill="none" stroke="#151515" stroke-width="1.2" />
<polygon points="1252.7,1000 1255.4,1016 1250,1016" fill="#111" stroke="none" stroke-width="1" />
<text x="1303.8" y="1038" font-size="22.5" text-anchor="middle" fill="#000" font-weight="normal" textLength="27" lengthAdjust="spacingAndGlyphs" stroke="#fff" stroke-width="0.4">3.5</text>
<polyline points="1206.5,985.8 1248.5,944 1279.7,944" fill="none" stroke="#151515" stroke-width="1.2" />
<polygon points="1206.5,985.8 1215.94,972.6 1219.75,976.43" fill="#111" stroke="none" stroke-width="1" />
<text x="1304.8" y="952.5" font-size="22.5" text-anchor="middle" fill="#000" font-weight="normal" textLength="37.5" lengthAdjust="spacingAndGlyphs" stroke="#fff" stroke-width="0.4">R3.1</text>
<line x1="1193.3" y1="1006.8" x2="1193.3" y2="1086.8" stroke="#151515" stroke-width="1.2" />
<line x1="1208.3" y1="1006.8" x2="1208.3" y2="1086.8" stroke="#151515" stroke-width="1.2" />
<line x1="1162.3" y1="1070.7" x2="1193.3" y2="1070.7" stroke="#151515" stroke-width="1.2" />
<polygon points="1193.3,1070.7 1177.3,1073.4 1177.3,1068" fill="#111" stroke="none" stroke-width="1" />
<line x1="1208.3" y1="1070.7" x2="1286" y2="1070.7" stroke="#151515" stroke-width="1.2" />
<polygon points="1208.3,1070.7 1224.3,1068 1224.3,1073.4" fill="#111" stroke="none" stroke-width="1" />
<text x="1304.8" y="1078.6" font-size="22.5" text-anchor="middle" fill="#000" font-weight="normal" textLength="25" lengthAdjust="spacingAndGlyphs" stroke="#fff" stroke-width="0.4">6.1</text>
</g>
<g id="iso">
<polygon points="1712.5,609.5 1747,596.2 1759,599 1762.5,601.5 1763.5,606 1760,609 1747,615.8 1714,616.6" fill="#1789d8" stroke="#0b1622" stroke-width="1.6" stroke-linejoin="round" stroke-linecap="round"/>
<polyline points="1714,612.8 1746,611.8 1761.5,603.5" fill="none" stroke="#0b1622" stroke-width="1.4" />
<ellipse cx="1742" cy="604.3" rx="6" ry="2.4" fill="#15609a" stroke="#0b1622" stroke-width="1.3" transform="rotate(-8 1742 604.3)"/>
<polygon points="1541.5,696 1577.5,680.3 1592,683.2 1597,686 1598.5,690 1595,693 1582,699.8 1541.5,701.3" fill="#1789d8" stroke="#0b1622" stroke-width="1.6" stroke-linejoin="round" stroke-linecap="round"/>
<polyline points="1542,697.6 1581,696 1597.5,687.5" fill="none" stroke="#0b1622" stroke-width="1.4" />
<ellipse cx="1569" cy="688.5" rx="5.6" ry="2.3" fill="#15609a" stroke="#0b1622" stroke-width="1.3" transform="rotate(-10 1569 688.5)"/>
<polygon points="1247.3,697.8 1251,610 1255.5,562 1257.5,555.5 1262,552 1284,541.5 1293,539.5 1488,436 1507,426.5 1512,424.6 1536,421.6 1539,421.8 1705,436 1738,442.8 1743,446 1745.5,451 1773.3,584.5 1750,595.5 1712.5,612 1540,700 1540,704.3 1514.5,717.8 1504.8,716.3 1501.5,704.5 1260,684.3 1259,697" fill="#1789d8" stroke="#0b1622" stroke-width="2.3" stroke-linejoin="round" stroke-linecap="round"/>
<polygon points="1266.5,568 1268.3,565.8 1365,568 1473,579.3 1480.5,580.4 1483.6,582.6 1485.6,590 1488.6,604 1495,652.8 1501.5,704.5 1260,684.3 1264.5,595" fill="#414141" stroke="#0c0c0c" stroke-width="2.6" stroke-linejoin="round" stroke-linecap="round"/>
<clipPath id="panelclip"><polygon points="1266.5,568 1268.3,565.8 1365,568 1473,579.3 1480.5,580.4 1483.6,582.6 1485.6,590 1488.6,604 1495,652.8 1501.5,704.5 1260,684.3 1264.5,595"/></clipPath>
<g clip-path="url(#panelclip)"><ellipse cx="1273.5" cy="578.6" rx="2.9" ry="7.6" fill="#090909" transform="rotate(4 1273.5 578.6)"/><ellipse cx="1273.7" cy="578.6" rx="0.6" ry="5.0" fill="#1f5f80" opacity="0.8" transform="rotate(4 1273.5 578.6)"/><ellipse cx="1281.35" cy="579.09" rx="2.9" ry="7.6" fill="#090909" transform="rotate(4 1281.35 579.09)"/><ellipse cx="1281.55" cy="579.09" rx="0.6" ry="5.0" fill="#1f5f80" opacity="0.8" transform="rotate(4 1281.35 579.09)"/><ellipse cx="1289.19" cy="579.58" rx="2.9" ry="7.6" fill="#090909" transform="rotate(4 1289.19 579.58)"/><ellipse cx="1289.39" cy="579.58" rx="0.6" ry="5.0" fill="#1f5f80" opacity="0.8" transform="rotate(4 1289.19 579.58)"/><ellipse cx="1297.04" cy="580.07" rx="2.9" ry="7.6" fill="#090909" transform="rotate(4 1297.04 580.07)"/><ellipse cx="1297.24" cy="580.07" rx="0.6" ry="5.0" fill="#1f5f80" opacity="0.8" transform="rotate(4 1297.04 580.07)"/><ellipse cx="1304.88" cy="580.55" rx="2.9" ry="7.6" fill="#090909" transform="rotate(4 1304.88 580.55)"/><ellipse cx="1305.08" cy="580.55" rx="0.6" ry="5.0" fill="#1f5f80" opacity="0.8" transform="rotate(4 1304.88 580.55)"/><ellipse cx="1312.73" cy="581.04" rx="2.9" ry="7.6" fill="#090909" transform="rotate(4 1312.73 581.04)"/><ellipse cx="1312.93" cy="581.04" rx="0.6" ry="5.0" fill="#1f5f80" opacity="0.8" transform="rotate(4 1312.73 581.04)"/><ellipse cx="1320.58" cy="581.53" rx="2.9" ry="7.6" fill="#090909" transform="rotate(4 1320.58 581.53)"/><ellipse cx="1320.78" cy="581.53" rx="0.6" ry="5.0" fill="#1f5f80" opacity="0.8" transform="rotate(4 1320.58 581.53)"/><ellipse cx="1328.42" cy="582.02" rx="2.9" ry="7.6" fill="#090909" transform="rotate(4 1328.42 582.02)"/><ellipse cx="1328.62" cy="582.02" rx="0.6" ry="5.0" fill="#1f5f80" opacity="0.8" transform="rotate(4 1328.42 582.02)"/><ellipse cx="1336.27" cy="582.51" rx="2.9" ry="7.6" fill="#090909" transform="rotate(4 1336.27 582.51)"/><ellipse cx="1336.47" cy="582.51" rx="0.6" ry="5.0" fill="#1f5f80" opacity="0.8" transform="rotate(4 1336.27 582.51)"/><ellipse cx="1344.12" cy="583" rx="2.9" ry="7.6" fill="#090909" transform="rotate(4 1344.12 583)"/><ellipse cx="1344.32" cy="583" rx="0.6" ry="5.0" fill="#1f5f80" opacity="0.8" transform="rotate(4 1344.12 583)"/><ellipse cx="1351.96" cy="583.48" rx="2.9" ry="7.6" fill="#090909" transform="rotate(4 1351.96 583.48)"/><ellipse cx="1352.16" cy="583.48" rx="0.6" ry="5.0" fill="#1f5f80" opacity="0.8" transform="rotate(4 1351.96 583.48)"/><ellipse cx="1359.81" cy="583.97" rx="2.9" ry="7.6" fill="#090909" transform="rotate(4 1359.81 583.97)"/><ellipse cx="1360.01" cy="583.97" rx="0.6" ry="5.0" fill="#1f5f80" opacity="0.8" transform="rotate(4 1359.81 583.97)"/><ellipse cx="1367.65" cy="584.46" rx="2.9" ry="7.6" fill="#090909" transform="rotate(4 1367.65 584.46)"/><ellipse cx="1367.85" cy="584.46" rx="0.6" ry="5.0" fill="#1f5f80" opacity="0.8" transform="rotate(4 1367.65 584.46)"/><ellipse cx="1375.5" cy="584.95" rx="2.9" ry="7.6" fill="#090909" transform="rotate(4 1375.5 584.95)"/><ellipse cx="1375.7" cy="584.95" rx="0.6" ry="5.0" fill="#1f5f80" opacity="0.8" transform="rotate(4 1375.5 584.95)"/><ellipse cx="1383.35" cy="585.44" rx="2.9" ry="7.6" fill="#090909" transform="rotate(4 1383.35 585.44)"/><ellipse cx="1383.55" cy="585.44" rx="0.6" ry="5.0" fill="#1f5f80" opacity="0.8" transform="rotate(4 1383.35 585.44)"/><ellipse cx="1391.19" cy="585.93" rx="2.9" ry="7.6" fill="#090909" transform="rotate(4 1391.19 585.93)"/><ellipse cx="1391.39" cy="585.93" rx="0.6" ry="5.0" fill="#1f5f80" opacity="0.8" transform="rotate(4 1391.19 585.93)"/><ellipse cx="1399.04" cy="586.42" rx="2.9" ry="7.6" fill="#090909" transform="rotate(4 1399.04 586.42)"/><ellipse cx="1399.24" cy="586.42" rx="0.6" ry="5.0" fill="#1f5f80" opacity="0.8" transform="rotate(4 1399.04 586.42)"/><ellipse cx="1406.88" cy="586.9" rx="2.9" ry="7.6" fill="#090909" transform="rotate(4 1406.88 586.9)"/><ellipse cx="1407.08" cy="586.9" rx="0.6" ry="5.0" fill="#1f5f80" opacity="0.8" transform="rotate(4 1406.88 586.9)"/><ellipse cx="1414.73" cy="587.39" rx="2.9" ry="7.6" fill="#090909" transform="rotate(4 1414.73 587.39)"/><ellipse cx="1414.93" cy="587.39" rx="0.6" ry="5.0" fill="#1f5f80" opacity="0.8" transform="rotate(4 1414.73 587.39)"/><ellipse cx="1422.58" cy="587.88" rx="2.9" ry="7.6" fill="#090909" transform="rotate(4 1422.58 587.88)"/><ellipse cx="1422.78" cy="587.88" rx="0.6" ry="5.0" fill="#1f5f80" opacity="0.8" transform="rotate(4 1422.58 587.88)"/><ellipse cx="1430.42" cy="588.37" rx="2.9" ry="7.6" fill="#090909" transform="rotate(4 1430.42 588.37)"/><ellipse cx="1430.62" cy="588.37" rx="0.6" ry="5.0" fill="#1f5f80" opacity="0.8" transform="rotate(4 1430.42 588.37)"/><ellipse cx="1438.27" cy="588.86" rx="2.9" ry="7.6" fill="#090909" transform="rotate(4 1438.27 588.86)"/><ellipse cx="1438.47" cy="588.86" rx="0.6" ry="5.0" fill="#1f5f80" opacity="0.8" transform="rotate(4 1438.27 588.86)"/><ellipse cx="1446.12" cy="589.35" rx="2.9" ry="7.6" fill="#090909" transform="rotate(4 1446.12 589.35)"/><ellipse cx="1446.32" cy="589.35" rx="0.6" ry="5.0" fill="#1f5f80" opacity="0.8" transform="rotate(4 1446.12 589.35)"/><ellipse cx="1453.96" cy="589.83" rx="2.9" ry="7.6" fill="#090909" transform="rotate(4 1453.96 589.83)"/><ellipse cx="1454.16" cy="589.83" rx="0.6" ry="5.0" fill="#1f5f80" opacity="0.8" transform="rotate(4 1453.96 589.83)"/><ellipse cx="1461.81" cy="590.32" rx="2.9" ry="7.6" fill="#090909" transform="rotate(4 1461.81 590.32)"/><ellipse cx="1462.01" cy="590.32" rx="0.6" ry="5.0" fill="#1f5f80" opacity="0.8" transform="rotate(4 1461.81 590.32)"/><ellipse cx="1469.65" cy="590.81" rx="2.9" ry="7.6" fill="#090909" transform="rotate(4 1469.65 590.81)"/><ellipse cx="1469.85" cy="590.81" rx="0.6" ry="5.0" fill="#1f5f80" opacity="0.8" transform="rotate(4 1469.65 590.81)"/><ellipse cx="1477.5" cy="591.3" rx="2.9" ry="7.6" fill="#090909" transform="rotate(4 1477.5 591.3)"/><ellipse cx="1477.7" cy="591.3" rx="0.6" ry="5.0" fill="#1f5f80" opacity="0.8" transform="rotate(4 1477.5 591.3)"/><ellipse cx="1275" cy="599.5" rx="2.9" ry="7.6" fill="#090909" transform="rotate(4 1275 599.5)"/><ellipse cx="1275.2" cy="599.5" rx="0.6" ry="5.0" fill="#1f5f80" opacity="0.8" transform="rotate(4 1275 599.5)"/><ellipse cx="1282.92" cy="600.08" rx="2.9" ry="7.6" fill="#090909" transform="rotate(4 1282.92 600.08)"/><ellipse cx="1283.12" cy="600.08" rx="0.6" ry="5.0" fill="#1f5f80" opacity="0.8" transform="rotate(4 1282.92 600.08)"/><ellipse cx="1290.83" cy="600.67" rx="2.9" ry="7.6" fill="#090909" transform="rotate(4 1290.83 600.67)"/><ellipse cx="1291.03" cy="600.67" rx="0.6" ry="5.0" fill="#1f5f80" opacity="0.8" transform="rotate(4 1290.83 600.67)"/><ellipse cx="1298.75" cy="601.25" rx="2.9" ry="7.6" fill="#090909" transform="rotate(4 1298.75 601.25)"/><ellipse cx="1298.95" cy="601.25" rx="0.6" ry="5.0" fill="#1f5f80" opacity="0.8" transform="rotate(4 1298.75 601.25)"/><ellipse cx="1306.67" cy="601.83" rx="2.9" ry="7.6" fill="#090909" transform="rotate(4 1306.67 601.83)"/><ellipse cx="1306.87" cy="601.83" rx="0.6" ry="5.0" fill="#1f5f80" opacity="0.8" transform="rotate(4 1306.67 601.83)"/><ellipse cx="1314.58" cy="602.42" rx="2.9" ry="7.6" fill="#090909" transform="rotate(4 1314.58 602.42)"/><ellipse cx="1314.78" cy="602.42" rx="0.6" ry="5.0" fill="#1f5f80" opacity="0.8" transform="rotate(4 1314.58 602.42)"/><ellipse cx="1322.5" cy="603" rx="2.9" ry="7.6" fill="#090909" transform="rotate(4 1322.5 603)"/><ellipse cx="1322.7" cy="603" rx="0.6" ry="5.0" fill="#1f5f80" opacity="0.8" transform="rotate(4 1322.5 603)"/><ellipse cx="1330.42" cy="603.58" rx="2.9" ry="7.6" fill="#090909" transform="rotate(4 1330.42 603.58)"/><ellipse cx="1330.62" cy="603.58" rx="0.6" ry="5.0" fill="#1f5f80" opacity="0.8" transform="rotate(4 1330.42 603.58)"/><ellipse cx="1338.33" cy="604.17" rx="2.9" ry="7.6" fill="#090909" transform="rotate(4 1338.33 604.17)"/><ellipse cx="1338.53" cy="604.17" rx="0.6" ry="5.0" fill="#1f5f80" opacity="0.8" transform="rotate(4 1338.33 604.17)"/><ellipse cx="1346.25" cy="604.75" rx="2.9" ry="7.6" fill="#090909" transform="rotate(4 1346.25 604.75)"/><ellipse cx="1346.45" cy="604.75" rx="0.6" ry="5.0" fill="#1f5f80" opacity="0.8" transform="rotate(4 1346.25 604.75)"/><ellipse cx="1354.17" cy="605.33" rx="2.9" ry="7.6" fill="#090909" transform="rotate(4 1354.17 605.33)"/><ellipse cx="1354.37" cy="605.33" rx="0.6" ry="5.0" fill="#1f5f80" opacity="0.8" transform="rotate(4 1354.17 605.33)"/><ellipse cx="1362.08" cy="605.92" rx="2.9" ry="7.6" fill="#090909" transform="rotate(4 1362.08 605.92)"/><ellipse cx="1362.28" cy="605.92" rx="0.6" ry="5.0" fill="#1f5f80" opacity="0.8" transform="rotate(4 1362.08 605.92)"/><ellipse cx="1370" cy="606.5" rx="2.9" ry="7.6" fill="#090909" transform="rotate(4 1370 606.5)"/><ellipse cx="1370.2" cy="606.5" rx="0.6" ry="5.0" fill="#1f5f80" opacity="0.8" transform="rotate(4 1370 606.5)"/><ellipse cx="1377.92" cy="607.08" rx="2.9" ry="7.6" fill="#090909" transform="rotate(4 1377.92 607.08)"/><ellipse cx="1378.12" cy="607.08" rx="0.6" ry="5.0" fill="#1f5f80" opacity="0.8" transform="rotate(4 1377.92 607.08)"/><ellipse cx="1385.83" cy="607.67" rx="2.9" ry="7.6" fill="#090909" transform="rotate(4 1385.83 607.67)"/><ellipse cx="1386.03" cy="607.67" rx="0.6" ry="5.0" fill="#1f5f80" opacity="0.8" transform="rotate(4 1385.83 607.67)"/><ellipse cx="1393.75" cy="608.25" rx="2.9" ry="7.6" fill="#090909" transform="rotate(4 1393.75 608.25)"/><ellipse cx="1393.95" cy="608.25" rx="0.6" ry="5.0" fill="#1f5f80" opacity="0.8" transform="rotate(4 1393.75 608.25)"/><ellipse cx="1401.67" cy="608.83" rx="2.9" ry="7.6" fill="#090909" transform="rotate(4 1401.67 608.83)"/><ellipse cx="1401.87" cy="608.83" rx="0.6" ry="5.0" fill="#1f5f80" opacity="0.8" transform="rotate(4 1401.67 608.83)"/><ellipse cx="1409.58" cy="609.42" rx="2.9" ry="7.6" fill="#090909" transform="rotate(4 1409.58 609.42)"/><ellipse cx="1409.78" cy="609.42" rx="0.6" ry="5.0" fill="#1f5f80" opacity="0.8" transform="rotate(4 1409.58 609.42)"/><ellipse cx="1417.5" cy="610" rx="2.9" ry="7.6" fill="#090909" transform="rotate(4 1417.5 610)"/><ellipse cx="1417.7" cy="610" rx="0.6" ry="5.0" fill="#1f5f80" opacity="0.8" transform="rotate(4 1417.5 610)"/><ellipse cx="1462.5" cy="611.5" rx="2.9" ry="7.6" fill="#090909" transform="rotate(4 1462.5 611.5)"/><ellipse cx="1470.33" cy="612.5" rx="2.9" ry="7.6" fill="#090909" transform="rotate(4 1470.33 612.5)"/><ellipse cx="1478.17" cy="613.5" rx="2.9" ry="7.6" fill="#090909" transform="rotate(4 1478.17 613.5)"/><ellipse cx="1486" cy="614.5" rx="2.9" ry="7.6" fill="#090909" transform="rotate(4 1486 614.5)"/><ellipse cx="1276.5" cy="620.5" rx="2.9" ry="7.6" fill="#090909" transform="rotate(4 1276.5 620.5)"/><ellipse cx="1284.38" cy="620.25" rx="2.9" ry="7.6" fill="#090909" transform="rotate(4 1284.38 620.25)"/><ellipse cx="1292.25" cy="620" rx="2.9" ry="7.6" fill="#090909" transform="rotate(4 1292.25 620)"/><ellipse cx="1300.12" cy="619.75" rx="2.9" ry="7.6" fill="#090909" transform="rotate(4 1300.12 619.75)"/><ellipse cx="1308" cy="619.5" rx="2.9" ry="7.6" fill="#090909" transform="rotate(4 1308 619.5)"/><ellipse cx="1363.5" cy="626.5" rx="2.9" ry="7.6" fill="#090909" transform="rotate(4 1363.5 626.5)"/><ellipse cx="1371.21" cy="627.26" rx="2.9" ry="7.6" fill="#090909" transform="rotate(4 1371.21 627.26)"/><ellipse cx="1378.93" cy="628.01" rx="2.9" ry="7.6" fill="#090909" transform="rotate(4 1378.93 628.01)"/><ellipse cx="1386.64" cy="628.77" rx="2.9" ry="7.6" fill="#090909" transform="rotate(4 1386.64 628.77)"/><ellipse cx="1394.36" cy="629.53" rx="2.9" ry="7.6" fill="#090909" transform="rotate(4 1394.36 629.53)"/><ellipse cx="1402.07" cy="630.29" rx="2.9" ry="7.6" fill="#090909" transform="rotate(4 1402.07 630.29)"/><ellipse cx="1409.79" cy="631.04" rx="2.9" ry="7.6" fill="#090909" transform="rotate(4 1409.79 631.04)"/><ellipse cx="1417.5" cy="631.8" rx="2.9" ry="7.6" fill="#090909" transform="rotate(4 1417.5 631.8)"/><ellipse cx="1465.5" cy="632.5" rx="2.9" ry="7.6" fill="#090909" transform="rotate(4 1465.5 632.5)"/><ellipse cx="1473.5" cy="633.5" rx="2.9" ry="7.6" fill="#090909" transform="rotate(4 1473.5 633.5)"/><ellipse cx="1481.5" cy="634.5" rx="2.9" ry="7.6" fill="#090909" transform="rotate(4 1481.5 634.5)"/><ellipse cx="1489.5" cy="635.5" rx="2.9" ry="7.6" fill="#090909" transform="rotate(4 1489.5 635.5)"/><ellipse cx="1270.5" cy="640" rx="2.9" ry="7.6" fill="#090909" transform="rotate(4 1270.5 640)"/><ellipse cx="1270.7" cy="640" rx="0.6" ry="5.0" fill="#1a4050" opacity="0.8" transform="rotate(4 1270.5 640)"/><ellipse cx="1279" cy="641" rx="2.9" ry="7.6" fill="#090909" transform="rotate(4 1279 641)"/><ellipse cx="1279.2" cy="641" rx="0.6" ry="5.0" fill="#1a4050" opacity="0.8" transform="rotate(4 1279 641)"/><ellipse cx="1287.5" cy="642" rx="2.9" ry="7.6" fill="#090909" transform="rotate(4 1287.5 642)"/><ellipse cx="1287.7" cy="642" rx="0.6" ry="5.0" fill="#1a4050" opacity="0.8" transform="rotate(4 1287.5 642)"/><ellipse cx="1296" cy="643" rx="2.9" ry="7.6" fill="#090909" transform="rotate(4 1296 643)"/><ellipse cx="1296.2" cy="643" rx="0.6" ry="5.0" fill="#1a4050" opacity="0.8" transform="rotate(4 1296 643)"/><ellipse cx="1365" cy="647.5" rx="2.9" ry="7.6" fill="#090909" transform="rotate(4 1365 647.5)"/><ellipse cx="1372.93" cy="648.14" rx="2.9" ry="7.6" fill="#090909" transform="rotate(4 1372.93 648.14)"/><ellipse cx="1380.86" cy="648.79" rx="2.9" ry="7.6" fill="#090909" transform="rotate(4 1380.86 648.79)"/><ellipse cx="1388.79" cy="649.43" rx="2.9" ry="7.6" fill="#090909" transform="rotate(4 1388.79 649.43)"/><ellipse cx="1396.71" cy="650.07" rx="2.9" ry="7.6" fill="#090909" transform="rotate(4 1396.71 650.07)"/><ellipse cx="1404.64" cy="650.71" rx="2.9" ry="7.6" fill="#090909" transform="rotate(4 1404.64 650.71)"/><ellipse cx="1412.57" cy="651.36" rx="2.9" ry="7.6" fill="#090909" transform="rotate(4 1412.57 651.36)"/><ellipse cx="1420.5" cy="652" rx="2.9" ry="7.6" fill="#090909" transform="rotate(4 1420.5 652)"/><ellipse cx="1428" cy="656" rx="2.9" ry="4.2" fill="#090909" transform="rotate(4 1428 656)"/><ellipse cx="1435.88" cy="656.5" rx="2.9" ry="4.2" fill="#090909" transform="rotate(4 1435.88 656.5)"/><ellipse cx="1443.75" cy="657" rx="2.9" ry="4.2" fill="#090909" transform="rotate(4 1443.75 657)"/><ellipse cx="1451.62" cy="657.5" rx="2.9" ry="4.2" fill="#090909" transform="rotate(4 1451.62 657.5)"/><ellipse cx="1459.5" cy="658" rx="2.9" ry="4.2" fill="#090909" transform="rotate(4 1459.5 658)"/><ellipse cx="1467" cy="653.5" rx="2.9" ry="7.6" fill="#090909" transform="rotate(4 1467 653.5)"/><ellipse cx="1475.5" cy="654.5" rx="2.9" ry="7.6" fill="#090909" transform="rotate(4 1475.5 654.5)"/><ellipse cx="1484" cy="655.5" rx="2.9" ry="7.6" fill="#090909" transform="rotate(4 1484 655.5)"/><ellipse cx="1492.5" cy="656.5" rx="2.9" ry="7.6" fill="#090909" transform="rotate(4 1492.5 656.5)"/><ellipse cx="1272" cy="662.5" rx="2.9" ry="7.6" fill="#090909" transform="rotate(4 1272 662.5)"/><ellipse cx="1280" cy="663" rx="2.9" ry="7.6" fill="#090909" transform="rotate(4 1280 663)"/><ellipse cx="1288" cy="663.5" rx="2.9" ry="7.6" fill="#090909" transform="rotate(4 1288 663.5)"/><ellipse cx="1296" cy="664" rx="2.9" ry="7.6" fill="#090909" transform="rotate(4 1296 664)"/><ellipse cx="1366.5" cy="667.8" rx="2.9" ry="7.6" fill="#090909" transform="rotate(4 1366.5 667.8)"/><ellipse cx="1374.3" cy="668.54" rx="2.9" ry="7.6" fill="#090909" transform="rotate(4 1374.3 668.54)"/><ellipse cx="1382.1" cy="669.28" rx="2.9" ry="7.6" fill="#090909" transform="rotate(4 1382.1 669.28)"/><ellipse cx="1389.9" cy="670.02" rx="2.9" ry="7.6" fill="#090909" transform="rotate(4 1389.9 670.02)"/><ellipse cx="1397.7" cy="670.76" rx="2.9" ry="7.6" fill="#090909" transform="rotate(4 1397.7 670.76)"/><ellipse cx="1405.5" cy="671.5" rx="2.9" ry="7.6" fill="#090909" transform="rotate(4 1405.5 671.5)"/><ellipse cx="1485" cy="676" rx="2.9" ry="7.6" fill="#090909" transform="rotate(4 1485 676)"/><ellipse cx="1494" cy="677.5" rx="2.9" ry="7.6" fill="#090909" transform="rotate(4 1494 677.5)"/><ellipse cx="1273.5" cy="681" rx="2.9" ry="5" fill="#090909" transform="rotate(4 1273.5 681)"/><ellipse cx="1281" cy="681.67" rx="2.9" ry="5" fill="#090909" transform="rotate(4 1281 681.67)"/><ellipse cx="1288.5" cy="682.33" rx="2.9" ry="5" fill="#090909" transform="rotate(4 1288.5 682.33)"/><ellipse cx="1296" cy="683" rx="2.9" ry="5" fill="#090909" transform="rotate(4 1296 683)"/><ellipse cx="1368" cy="687" rx="2.9" ry="5.5" fill="#090909" transform="rotate(4 1368 687)"/><ellipse cx="1375.8" cy="687.6" rx="2.9" ry="5.5" fill="#090909" transform="rotate(4 1375.8 687.6)"/><ellipse cx="1383.6" cy="688.2" rx="2.9" ry="5.5" fill="#090909" transform="rotate(4 1383.6 688.2)"/><ellipse cx="1391.4" cy="688.8" rx="2.9" ry="5.5" fill="#090909" transform="rotate(4 1391.4 688.8)"/><ellipse cx="1399.2" cy="689.4" rx="2.9" ry="5.5" fill="#090909" transform="rotate(4 1399.2 689.4)"/><ellipse cx="1407" cy="690" rx="2.9" ry="5.5" fill="#090909" transform="rotate(4 1407 690)"/><ellipse cx="1412" cy="695" rx="2.9" ry="2.5" fill="#090909" transform="rotate(4 1412 695)"/><ellipse cx="1419.5" cy="695.75" rx="2.9" ry="2.5" fill="#090909" transform="rotate(4 1419.5 695.75)"/><ellipse cx="1427" cy="696.5" rx="2.9" ry="2.5" fill="#090909" transform="rotate(4 1427 696.5)"/><ellipse cx="1434.5" cy="697.25" rx="2.9" ry="2.5" fill="#090909" transform="rotate(4 1434.5 697.25)"/><ellipse cx="1442" cy="698" rx="2.9" ry="2.5" fill="#090909" transform="rotate(4 1442 698)"/><ellipse cx="1485" cy="695" rx="2.9" ry="5.5" fill="#090909" transform="rotate(4 1485 695)"/><ellipse cx="1494" cy="696.5" rx="2.9" ry="5.5" fill="#090909" transform="rotate(4 1494 696.5)"/></g>
<circle cx="1431.8" cy="605.3" r="3.5" stroke="#0a200a" stroke-width="1.2" fill="#1fe024" />
<circle cx="1446.8" cy="606.3" r="3.5" stroke="#300808" stroke-width="1.2" fill="#ee1414" />
<polygon points="1425,618.3 1456.5,619.8 1456.5,643 1425,641.5" fill="#0c0c0c" stroke="#000" stroke-width="1.2" stroke-linejoin="round" stroke-linecap="round"/>
<polygon points="1428.3,625.2 1450.4,626.2 1450.4,638.6 1428.3,637.6" fill="#9a9a9a" stroke="none" stroke-width="1" />
<polygon points="1302.8,623.5 1314,619 1357.5,622 1345.5,625.5" fill="#1c1c1c" stroke="#000" stroke-width="1" stroke-linejoin="round" stroke-linecap="round"/>
<polygon points="1345.5,625 1357.5,622 1359,682 1345.5,691" fill="#3c3c3c" stroke="#0a0a0a" stroke-width="1.2" stroke-linejoin="round" stroke-linecap="round"/>
<polygon points="1302.8,623.5 1324.5,625 1324.5,690.3 1303.5,688.8" fill="#e21212" stroke="#200" stroke-width="1.0" stroke-linejoin="round" stroke-linecap="round"/>
<polygon points="1324.5,625.5 1345.5,627 1345.5,691 1324.5,690.3" fill="#474747" stroke="#0a0a0a" stroke-width="1.2" stroke-linejoin="round" stroke-linecap="round"/>
<line x1="1303" y1="633.8" x2="1345.5" y2="636.5" stroke="#111" stroke-width="2.0" />
<line x1="1303" y1="652.5" x2="1345.5" y2="655.2" stroke="#111" stroke-width="3.0" />
<line x1="1303" y1="680" x2="1345.5" y2="682.5" stroke="#111" stroke-width="2.4" />
<polygon points="1306.5,657 1322.5,658 1322.5,677 1306.5,676" fill="#d81414" stroke="#150000" stroke-width="1.8" stroke-linejoin="round" stroke-linecap="round"/>
<polygon points="1310,661 1319,661.6 1319,673 1310,672.4" fill="#b01010" stroke="#300" stroke-width="1.0" stroke-linejoin="round" stroke-linecap="round"/>
<polygon points="1327,659 1343,660 1343,679 1327,678" fill="#3a3a3a" stroke="#050505" stroke-width="1.8" stroke-linejoin="round" stroke-linecap="round"/>
<polygon points="1330.5,663 1339.5,663.6 1339.5,675 1330.5,674.4" fill="#2c2c2c" stroke="#000" stroke-width="1.0" stroke-linejoin="round" stroke-linecap="round"/>
<polygon points="1410.8,673 1426.5,674 1426.5,683.8 1410.8,682.8" fill="#0a0a0a" stroke="#000" stroke-width="1" stroke-linejoin="round" stroke-linecap="round"/>
<line x1="1414" y1="677.6" x2="1424" y2="678.2" stroke="#e8e8e8" stroke-width="1.6" />
<polygon points="1428,663 1441,662 1447.8,667 1449,680 1446,686.5 1428.5,686.8" fill="#178a1c" stroke="#03280a" stroke-width="1.2" stroke-linejoin="round" stroke-linecap="round"/>
<polygon points="1429.5,666.5 1441,667 1441,685 1429.5,684.6" fill="#0f6f16" stroke="#03280a" stroke-width="1.0" stroke-linejoin="round" stroke-linecap="round"/>
<line x1="1432.5" y1="676" x2="1432.5" y2="684" stroke="#052a08" stroke-width="1.2" />
<line x1="1437" y1="676" x2="1437" y2="684" stroke="#052a08" stroke-width="1.2" />
<line x1="1430" y1="671.5" x2="1440.5" y2="672" stroke="#052a08" stroke-width="1.2" />
<polygon points="1446.8,685.8 1455,682 1476,683.5 1467,687.3" fill="#c9c9de" stroke="#15151f" stroke-width="1.1" stroke-linejoin="round" stroke-linecap="round"/>
<polygon points="1467,687.3 1476,683.5 1476,702.3 1467.8,707.5" fill="#c4c4dc" stroke="#15151f" stroke-width="1.1" stroke-linejoin="round" stroke-linecap="round"/>
<polygon points="1446.8,685.8 1467,687.3 1467.8,707.5 1447.5,706" fill="#dedef2" stroke="#15151f" stroke-width="1.2" stroke-linejoin="round" stroke-linecap="round"/>
<circle cx="1456.6" cy="697" r="4.9" stroke="#15151f" stroke-width="1.3" fill="none" />
<polyline points="1456.6,692.6 1456.6,697 1461,697.6" fill="none" stroke="#15151f" stroke-width="1.2" />
<polyline points="1257.5,556 1285,550.2 1294.5,549" fill="none" stroke="#0b1622" stroke-width="2.6" stroke-linejoin="round" stroke-linecap="round"/>
<polyline points="1294.5,548.8 1527,428.6 1539,422.6" fill="none" stroke="#0e141b" stroke-width="3.4" stroke-linejoin="round" stroke-linecap="round"/>
<polyline points="1296.5,550.5 1529,430.4" fill="none" stroke="#3a5a78" stroke-width="0.8" stroke-dasharray="1 1.2"/>
<path d="M1518,435.4 L1526,436.2 C1560,437 1620,440.6 1682.5,448 L1720,452.6" stroke="#0e141b" stroke-width="3.0" fill="none" stroke-linejoin="round" stroke-linecap="round"/>
<path d="M1720,452.6 Q1724.5,456 1726,463 L1747,596" stroke="#0e141b" stroke-width="3.2" fill="none" stroke-linejoin="round" stroke-linecap="round"/>
<path d="M1721.5,455 Q1725,458 1726.8,464 L1747.5,594" stroke="#3a5a78" stroke-width="0.8" fill="none" stroke-dasharray="1.2 1.4"/>
<line x1="1705" y1="436.2" x2="1688" y2="446.2" stroke="#0b1622" stroke-width="1.6" />
<line x1="1738" y1="443" x2="1720" y2="452.4" stroke="#0b1622" stroke-width="1.6" />
<line x1="1511.5" y1="425.2" x2="1494" y2="434.2" stroke="#0b1622" stroke-width="1.4" />
<path d="M1487,435.6 L1507,426.6 Q1510,425 1513,424.6 L1537,421.7" stroke="#0e141b" stroke-width="3.4" fill="none" stroke-linejoin="round" stroke-linecap="round"/>
<path d="M1294.5,550 L1380,556 L1459.5,562.8 L1466,563.6" stroke="#0e141b" stroke-width="3.0" fill="none" stroke-linejoin="round" stroke-linecap="round"/>
<path d="M1314,540.3 L1380,544 L1470,551.6 Q1474,552.2 1476,553 C1490,556 1502,559.5 1507.5,562 Q1512.5,564.5 1515.3,571.5 L1527,623.3 L1540,704.3" stroke="#0b1622" stroke-width="1.6" fill="none" stroke-linejoin="round" stroke-linecap="round"/>
<path d="M1466,563.6 C1478,566 1485,568 1489.8,570.6 Q1493.6,574 1495,579.6 L1504,627 L1514.4,717.8" stroke="#0e141b" stroke-width="3.0" fill="none" stroke-linejoin="round" stroke-linecap="round"/>
<path d="M1468,565.4 C1478,567.6 1484,569.6 1488.6,572.2 Q1492.2,575.4 1493.6,580.4 L1502.6,627 L1513,716" stroke="#3a5a78" stroke-width="0.8" fill="none" stroke-dasharray="1.2 1.4"/>
<line x1="1285" y1="550" x2="1285.6" y2="564.5" stroke="#0b1622" stroke-width="1.6" />
<line x1="1465.6" y1="563" x2="1467" y2="577.5" stroke="#0b1622" stroke-width="1.6" />
<polygon points="1464,550 1476,552.4 1675,451 1663,448.8" fill="#ff4f12" stroke="none" stroke-width="1" />
<line x1="1476" y1="552.6" x2="1679.5" y2="451.8" stroke="#0e141b" stroke-width="2.6" />
<line x1="1492" y1="566.5" x2="1714" y2="456.3" stroke="#0e141b" stroke-width="2.4" />
<line x1="1516" y1="567.3" x2="1723" y2="464.5" stroke="#0e141b" stroke-width="2.0" />
<polyline points="1507,636 1558,610 1757.5,510.3" fill="none" stroke="#0e141b" stroke-width="2.0" />
<line x1="1492" y1="566.5" x2="1507.5" y2="562.2" stroke="#0b1622" stroke-width="1.4" />
<polygon points="1540.5,697.2 1712.5,609.8 1714.5,616.4 1541.5,701.6" fill="#1789d8" stroke="#0b1622" stroke-width="1.2" stroke-linejoin="round" stroke-linecap="round"/>
<line x1="1541" y1="698.4" x2="1712.8" y2="611.2" stroke="#0e141b" stroke-width="2.6" />
<polyline points="1259.2,689.5 1260,684.3" fill="none" stroke="#0b1622" stroke-width="1.4" />
<line x1="1638" y1="582.3" x2="1718" y2="546.6" stroke="#eaf4ff" stroke-width="0.9" opacity="0.85"/>
<polygon points="1546.5,637.5 1550,620 1554.5,633.5" fill="none" stroke="#eaf4ff" stroke-width="1.0" opacity="0.85"/>
<polygon points="1558,623 1566,619.5 1566,626.5 1558,630.5" fill="none" stroke="#eaf4ff" stroke-width="1.0" opacity="0.85"/>
<ellipse cx="1554" cy="650" rx="4.4" ry="10" fill="none" stroke="#eaf4ff" stroke-width="0.9" opacity="0.8" transform="rotate(14 1554 650)"/>
<polygon points="1505,452.5 1522,445 1551,444.5 1533,453.5" fill="#f2f2f2" stroke="#222" stroke-width="0.6" />
<line x1="1511" y1="451" x2="1545" y2="446" stroke="#1a1a1a" stroke-width="1.6" stroke-dasharray="3 2 6 1.5"/>
<text transform="matrix(0.89,-0.45,1.1,0.03,1501,505)" font-size="14" fill="#eaf4ff" stroke="#eaf4ff" stroke-width="0.5" textLength="125" lengthAdjust="spacingAndGlyphs" opacity="0.85">Inverter 12 | 800</text><text transform="matrix(0.89,-0.45,1.1,0.03,1482,500)" font-size="8" fill="#eaf4ff" stroke="#eaf4ff" stroke-width="0.3" textLength="78" lengthAdjust="spacingAndGlyphs" opacity="0.8">victron energy</text><text transform="matrix(0.90,-0.44,0.06,1.0,1636,578)" font-size="5" fill="#eaf4ff" textLength="20" lengthAdjust="spacingAndGlyphs" opacity="0.95">Phoenix</text><text transform="matrix(0.90,-0.44,0.06,1.0,1658,572)" font-size="5" fill="#eaf4ff" textLength="20" lengthAdjust="spacingAndGlyphs" opacity="0.95">Inverter</text><text transform="matrix(0.90,-0.44,0.06,1.0,1638,592.0)" font-size="5" fill="#eaf4ff" textLength="11" lengthAdjust="spacingAndGlyphs" opacity="0.95">12V</text><text transform="matrix(0.90,-0.44,0.06,1.0,1660,586.5)" font-size="5" fill="#eaf4ff" textLength="24" lengthAdjust="spacingAndGlyphs" opacity="0.95">800VA</text><text transform="matrix(0.90,-0.44,0.06,1.0,1638,598.5)" font-size="5" fill="#eaf4ff" textLength="11" lengthAdjust="spacingAndGlyphs" opacity="0.95"></text><text transform="matrix(0.90,-0.44,0.06,1.0,1660,593.0)" font-size="5" fill="#eaf4ff" textLength="19" lengthAdjust="spacingAndGlyphs" opacity="0.95">230V 50Hz</text><text transform="matrix(0.90,-0.44,0.06,1.0,1638,605.0)" font-size="5" fill="#eaf4ff" textLength="11" lengthAdjust="spacingAndGlyphs" opacity="0.95"></text><text transform="matrix(0.90,-0.44,0.06,1.0,1660,599.5)" font-size="5" fill="#eaf4ff" textLength="14" lengthAdjust="spacingAndGlyphs" opacity="0.95">IP21</text><text transform="matrix(0.90,-0.44,0.06,1.0,1690,552)" font-size="5" fill="#eaf4ff" textLength="22" lengthAdjust="spacingAndGlyphs" opacity="0.95">Input</text><text transform="matrix(0.90,-0.44,0.06,1.0,1690,559)" font-size="5" fill="#eaf4ff" textLength="26" lengthAdjust="spacingAndGlyphs" opacity="0.95">Output</text><text transform="matrix(0.90,-0.44,0.06,1.0,1690,566)" font-size="5" fill="#eaf4ff" textLength="22" lengthAdjust="spacingAndGlyphs" opacity="0.95">AC Output</text><text transform="matrix(0.90,-0.44,0.06,1.0,1690,573)" font-size="5" fill="#eaf4ff" textLength="26" lengthAdjust="spacingAndGlyphs" opacity="0.95">Frequency</text><text transform="matrix(0.90,-0.44,0.06,1.0,1690,580)" font-size="5" fill="#eaf4ff" textLength="22" lengthAdjust="spacingAndGlyphs" opacity="0.95">Power</text><text transform="matrix(0.90,-0.44,0.06,1.0,1672,602)" font-size="5" fill="#eaf4ff" textLength="8" lengthAdjust="spacingAndGlyphs" opacity="0.95">—</text><text transform="matrix(0.90,-0.44,0.06,1.0,1594,606.0)" font-size="5" fill="#eaf4ff" textLength="10" lengthAdjust="spacingAndGlyphs" opacity="0.95">12V</text><text transform="matrix(0.90,-0.44,0.06,1.0,1594,613.5)" font-size="5" fill="#eaf4ff" textLength="10" lengthAdjust="spacingAndGlyphs" opacity="0.95">IP21</text><text transform="matrix(0.90,-0.44,0.06,1.0,1594,621.0)" font-size="5" fill="#eaf4ff" textLength="10" lengthAdjust="spacingAndGlyphs" opacity="0.95">25A</text><text transform="matrix(0.90,-0.44,0.06,1.0,1594,628.5)" font-size="5" fill="#eaf4ff" textLength="10" lengthAdjust="spacingAndGlyphs" opacity="0.95">800VA</text><text transform="matrix(0.90,-0.44,0.06,1.0,1560,624)" font-size="11" fill="#eaf4ff" textLength="15" lengthAdjust="spacingAndGlyphs" opacity="0.9">CE</text><text transform="matrix(0.90,-0.44,0.06,1.0,1550,653)" font-size="5" fill="#eaf4ff" textLength="8" lengthAdjust="spacingAndGlyphs" opacity="0.8">EX</text><text transform="matrix(0.90,-0.44,0.06,1.0,1551,672)" font-size="6.5" fill="#eaf4ff" textLength="31" lengthAdjust="spacingAndGlyphs" opacity="0.8">VE.354KE</text>
</g>
<g id="titleblock">
<line x1="1392.4" y1="1203.6" x2="1975" y2="1203.6" stroke="#3c3c3c" stroke-width="1.3" />
<line x1="1392.4" y1="1228.7" x2="1975" y2="1228.7" stroke="#3c3c3c" stroke-width="1.3" />
<line x1="1392.4" y1="1203" x2="1392.4" y2="1374.5" stroke="#3c3c3c" stroke-width="1.3" />
<line x1="1975" y1="1203" x2="1975" y2="1229.3" stroke="#3c3c3c" stroke-width="1.3" />
<text x="1683.8" y="1223.6" font-size="20.5" text-anchor="middle" fill="#000" font-weight="normal" textLength="176" lengthAdjust="spacingAndGlyphs" stroke="#fff" stroke-width="0.4">Dimensions in mm</text>
<g transform="translate(1430,1245) scale(0.09)"><g><path d="M207,678 L207,670 A218,464 0 0 1 425,206 A218,464 0 0 1 525,257.7" fill="none" stroke="#0d6fc4" stroke-width="86" stroke-linecap="round"/><path d="M398,678 L398,670 A218,464 0 0 1 616,206 A218,464 0 0 1 716,257.7" fill="none" stroke="#fff" stroke-width="146"/><path d="M398,678 L398,670 A218,464 0 0 1 616,206 A218,464 0 0 1 716,257.7" fill="none" stroke="#0d6fc4" stroke-width="86" stroke-linecap="round"/><path d="M589,678 L589,670 A218,464 0 0 1 807,206 A218,464 0 0 1 907,257.7" fill="none" stroke="#fff" stroke-width="146"/><path d="M589,678 L589,670 A218,464 0 0 1 807,206 A218,464 0 0 1 907,257.7" fill="none" stroke="#0d6fc4" stroke-width="86" stroke-linecap="round"/><path d="M780,678 L780,670 A230,464 0 0 1 1010,206 A230,464 0 0 1 1233.44,560" fill="none" stroke="#fff" stroke-width="146"/><path d="M780,678 L780,670 A230,464 0 0 1 1010,206 A230,464 0 0 1 1233.44,560" fill="none" stroke="#0d6fc4" stroke-width="86" stroke-linecap="round"/><path d="M1190.44,556 L1276.44,556 C1293.44,680 1283.44,780 1246,885 C1244,800 1232,690 1190.44,556 Z" fill="#0d6fc4"/><path d="M915,322 C935,262 975,222 1006,220 C1035,222 1055,245 1068,285 C1100,380 1118,520 1094,700 C1084,780 1068,840 1050,885 C1050,770 1035,640 1000,520 C980,440 950,370 915,322 Z" fill="#0d6fc4"/></g><g transform="rotate(180 972.5 660)"><path d="M207,678 L207,670 A218,464 0 0 1 425,206 A218,464 0 0 1 525,257.7" fill="none" stroke="#0d6fc4" stroke-width="86" stroke-linecap="round"/><path d="M398,678 L398,670 A218,464 0 0 1 616,206 A218,464 0 0 1 716,257.7" fill="none" stroke="#fff" stroke-width="146"/><path d="M398,678 L398,670 A218,464 0 0 1 616,206 A218,464 0 0 1 716,257.7" fill="none" stroke="#0d6fc4" stroke-width="86" stroke-linecap="round"/><path d="M589,678 L589,670 A218,464 0 0 1 807,206 A218,464 0 0 1 907,257.7" fill="none" stroke="#fff" stroke-width="146"/><path d="M589,678 L589,670 A218,464 0 0 1 807,206 A218,464 0 0 1 907,257.7" fill="none" stroke="#0d6fc4" stroke-width="86" stroke-linecap="round"/><path d="M780,678 L780,670 A230,464 0 0 1 1010,206 A230,464 0 0 1 1233.44,560" fill="none" stroke="#fff" stroke-width="146"/><path d="M780,678 L780,670 A230,464 0 0 1 1010,206 A230,464 0 0 1 1233.44,560" fill="none" stroke="#0d6fc4" stroke-width="86" stroke-linecap="round"/><path d="M1190.44,556 L1276.44,556 C1293.44,680 1283.44,780 1246,885 C1244,800 1232,690 1190.44,556 Z" fill="#0d6fc4"/><path d="M915,322 C935,262 975,222 1006,220 C1035,222 1055,245 1068,285 C1100,380 1118,520 1094,700 C1084,780 1068,840 1050,885 C1050,770 1035,640 1000,520 C980,440 950,370 915,322 Z" fill="#0d6fc4"/></g><g><path d="M780,678 L780,670 A230,464 0 0 1 802,455" fill="none" stroke="#fff" stroke-width="116"/><circle cx="780" cy="678" r="58.0" fill="#fff"/><path d="M780,678 L780,670 A230,464 0 0 1 802,455" fill="none" stroke="#0d6fc4" stroke-width="86" stroke-linecap="round"/></g><g transform="rotate(180 972.5 660)"><path d="M780,678 L780,670 A230,464 0 0 1 802,455" fill="none" stroke="#fff" stroke-width="116"/><circle cx="780" cy="678" r="58.0" fill="#fff"/><path d="M780,678 L780,670 A230,464 0 0 1 802,455" fill="none" stroke="#0d6fc4" stroke-width="86" stroke-linecap="round"/></g></g>
<text x="1594" y="1295.6" font-size="54" font-weight="bold" fill="#222" stroke="#222" stroke-width="0.7" stroke-linejoin="round" textLength="340" lengthAdjust="spacingAndGlyphs">victron energy</text>
<text x="1646.8" y="1318.5" font-size="13.6" font-weight="normal" fill="#222" stroke="#222" stroke-width="0.45" textLength="201" lengthAdjust="spacing">BLUE POWER</text>
</g>
</svg>
</body></html>
